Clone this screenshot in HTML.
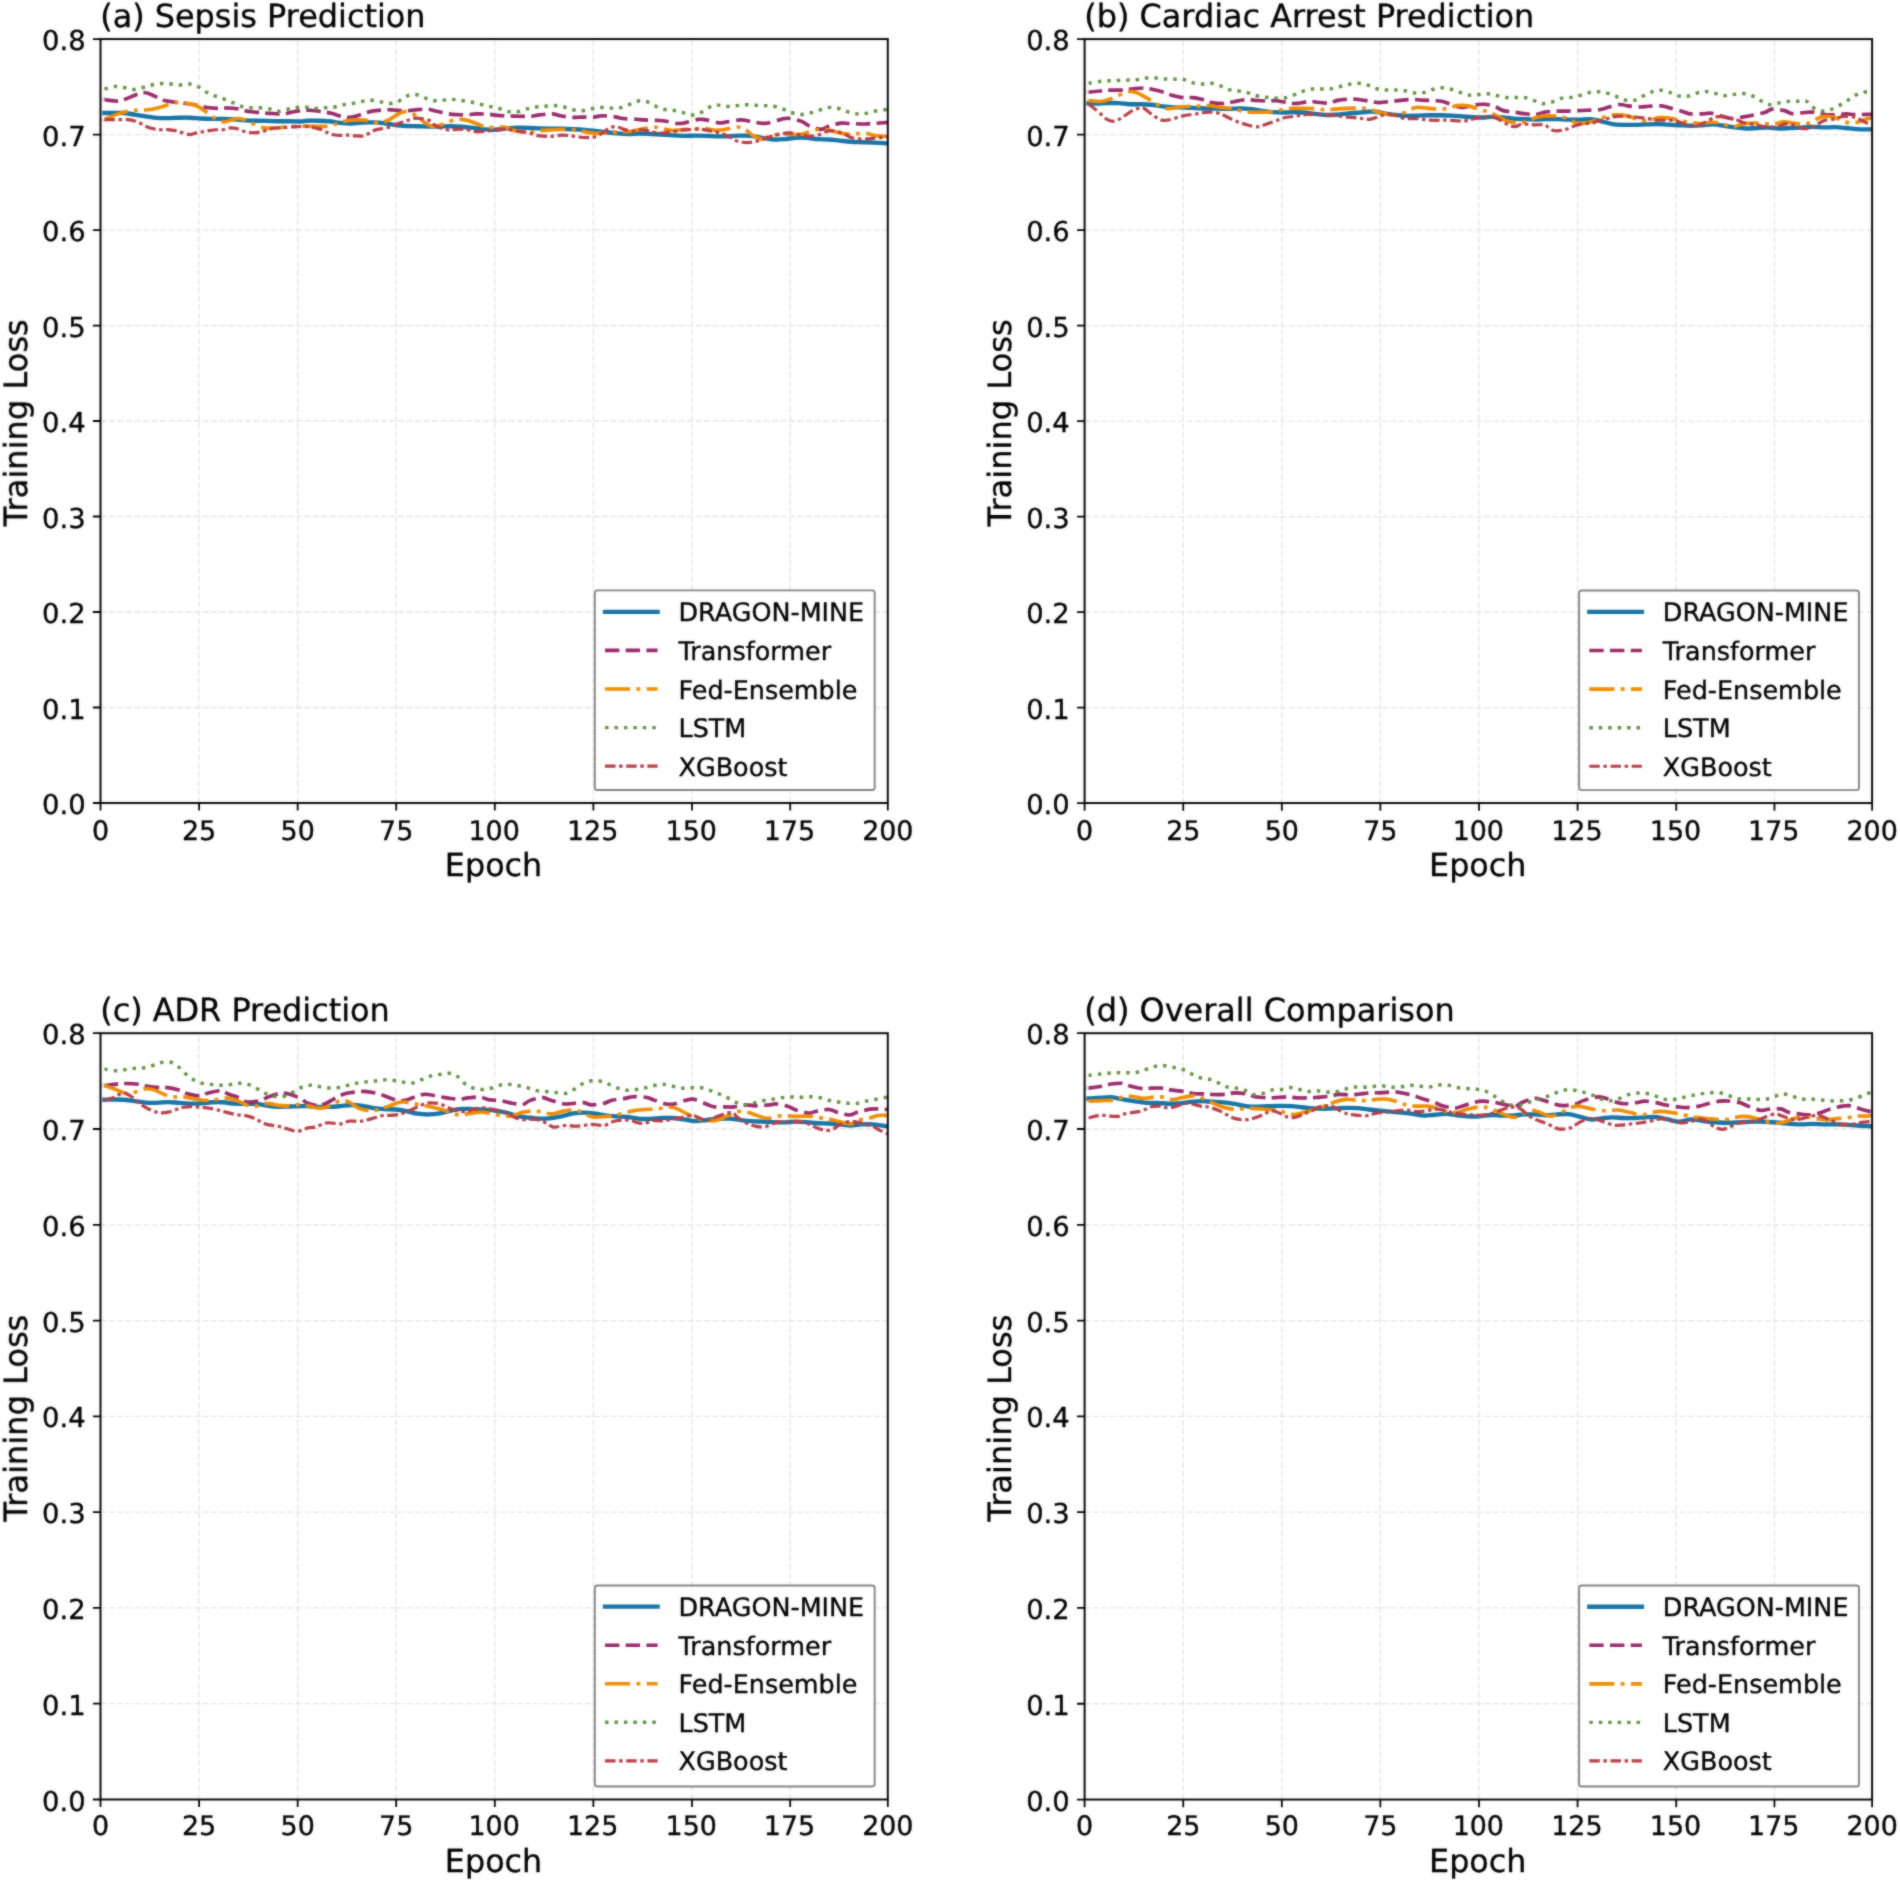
<!DOCTYPE html>
<html lang="en">
<head>
<meta charset="utf-8">
<title>Training loss comparison</title>
<style>
html,body{margin:0;padding:0;background:#fff;}
body{width:1900px;height:1884px;overflow:hidden;}
svg{display:block;font-family:'DejaVu Sans', 'Liberation Sans', sans-serif;fill:#000;}
text{stroke:#000;stroke-width:0.35px;stroke-linejoin:round;}
</style>
</head>
<body>
<svg width="1900" height="1884" viewBox="0 0 1900 1884" text-rendering="geometricPrecision">
<defs><filter id="soft" x="0" y="0" width="100%" height="100%" filterUnits="objectBoundingBox" color-interpolation-filters="sRGB"><feGaussianBlur in="SourceGraphic" stdDeviation="0.8" result="b"/><feComposite in="SourceGraphic" in2="b" operator="arithmetic" k1="0" k2="0.5" k3="0.5" k4="0"/></filter></defs>
<g filter="url(#soft)">
<rect width="1900" height="1884" fill="#fff"/>
<g>
<path d="M199.11 803V39.05M297.68 803V39.05M396.19 803V39.05M494.8 803V39.05M593.36 803V39.05M691.98 803V39.05M790.19 803V39.05M100.5 707.51H887.8M100.5 612.01H887.8M100.5 516.52H887.8M100.5 421.02H887.8M100.5 325.53H887.8M100.5 230.04H887.8M100.5 134.54H887.8" fill="none" stroke="#e4e4e4" stroke-width="1.3" stroke-dasharray="5.9 2.6"/>
<clipPath id="clip-a"><rect x="100.5" y="39.05" width="787.3" height="763.95"/></clipPath>
<g clip-path="url(#clip-a)" fill="none" stroke-linejoin="round">
<path d="M104.44 112.97C104.6 112.97 104.03 112.97 105.39 112.97C106.75 112.97 109.54 112.97 112.58 112.97C115.62 112.97 119.95 112.69 123.63 112.97C127.31 113.25 131 114.08 134.68 114.63C138.37 115.18 142.06 115.74 145.74 116.29C149.43 116.84 153.11 117.64 156.79 117.95C160.47 118.26 164.16 118.21 167.84 118.17C171.52 118.13 175.2 117.8 178.89 117.73C182.57 117.66 186.26 117.6 189.95 117.73C193.63 117.86 197.32 118.32 201 118.5C204.68 118.68 208.37 118.78 212.05 118.83C215.74 118.88 219.43 118.76 223.11 118.83C226.8 118.9 230.48 119.01 234.16 119.27C237.84 119.53 241.53 120.14 245.21 120.38C248.89 120.62 252.57 120.62 256.26 120.71C259.94 120.8 263.63 120.84 267.32 120.93C271 121.02 274.69 121.21 278.37 121.26C282.05 121.31 285.74 121.22 289.42 121.26C293.1 121.3 297.53 121.57 300.47 121.48C303.41 121.39 304.11 120.84 307.05 120.71C309.99 120.58 314.43 120.62 318.11 120.71C321.8 120.8 325.48 120.89 329.16 121.26C332.84 121.63 336.53 122.55 340.21 122.92C343.89 123.29 347.57 123.53 351.26 123.47C354.94 123.41 358.63 122.77 362.32 122.59C366 122.41 369.69 122.26 373.37 122.37C377.05 122.48 380.74 122.79 384.42 123.25C388.1 123.71 391.79 124.67 395.47 125.13C399.16 125.59 402.84 125.83 406.53 126.02C410.21 126.2 413.9 126.15 417.58 126.24C421.26 126.33 424.95 126.51 428.63 126.57C432.31 126.62 436 126.62 439.68 126.57C443.37 126.51 447.06 126.2 450.74 126.24C454.43 126.28 458.11 126.52 461.79 126.79C465.47 127.07 469.16 127.47 472.84 127.89C476.52 128.31 480.2 129.02 483.89 129.33C487.57 129.64 491.09 129.92 494.95 129.77C498.81 129.62 503.19 128.8 507.05 128.45C510.91 128.1 514.43 127.76 518.11 127.67C521.79 127.58 525.48 127.76 529.16 127.89C532.84 128.02 536.53 128.32 540.21 128.45C543.89 128.58 547.58 128.61 551.26 128.67C554.94 128.72 558.63 128.69 562.32 128.78C566.01 128.87 569.69 129.04 573.37 129.22C577.05 129.4 580.74 129.58 584.42 129.88C588.1 130.18 591.79 130.58 595.47 130.99C599.15 131.4 602.85 131.91 606.53 132.32C610.21 132.72 613.9 133.14 617.58 133.42C621.26 133.69 624.95 133.93 628.63 133.97C632.31 134.01 635.99 133.64 639.68 133.64C643.37 133.64 647.06 133.82 650.74 133.97C654.42 134.12 658.11 134.29 661.79 134.53C665.47 134.77 669.16 135.19 672.84 135.41C676.52 135.63 680.2 135.81 683.89 135.85C687.58 135.89 691.09 135.63 694.95 135.63C698.81 135.63 703.19 135.72 707.05 135.85C710.91 135.98 714.42 136.35 718.11 136.41C721.8 136.47 725.48 136.31 729.16 136.18C732.84 136.05 736.53 135.69 740.21 135.63C743.89 135.57 747.58 135.48 751.26 135.85C754.94 136.22 758.63 137.23 762.32 137.84C766.01 138.45 769.69 139.28 773.37 139.5C777.05 139.72 780.74 139.45 784.42 139.17C788.1 138.89 791.79 138.06 795.47 137.84C799.15 137.62 802.85 137.62 806.53 137.84C810.21 138.06 813.9 138.89 817.58 139.17C821.26 139.45 824.95 139.26 828.63 139.5C832.31 139.74 835.99 140.24 839.68 140.61C843.37 140.98 847.06 141.44 850.74 141.71C854.42 141.99 858.11 142.11 861.79 142.26C865.47 142.41 868.6 142.41 872.84 142.59C877.08 142.78 884.82 143.24 887.21 143.37" stroke="#1473a5" stroke-width="4.35" stroke-linecap="square"/>
<path d="M104.44 99.66C104.6 99.67 103.11 99.46 105.39 99.71C107.67 99.96 114.7 101.28 118.11 101.15C121.52 101.02 122.62 100.1 125.84 98.94C129.06 97.78 134.13 95.21 137.45 94.18C140.77 93.15 142.33 92.2 145.74 92.75C149.15 93.3 154.57 96.16 157.89 97.5C161.2 98.84 162.31 99.99 165.63 100.82C168.95 101.65 174.1 101.97 177.79 102.47C181.47 102.97 184.43 103.3 187.74 103.8C191.06 104.3 194.55 104.85 197.68 105.46C200.81 106.07 203.03 106.97 206.53 107.45C210.03 107.93 215.18 108.24 218.68 108.33C222.18 108.42 224.03 107.87 227.53 108C231.03 108.13 236.18 108.52 239.68 109.11C243.18 109.7 244.84 110.95 248.53 111.54C252.22 112.13 258.38 112.34 261.79 112.64C265.2 112.94 265.47 113.07 268.97 113.31C272.47 113.55 279.2 114.23 282.79 114.08C286.38 113.93 287.22 113.04 290.53 112.42C293.84 111.8 299.35 110.75 302.66 110.38C305.97 110.01 306.88 109.96 310.37 110.21C313.87 110.46 320.13 111.35 323.63 111.87C327.13 112.39 327.96 112.45 331.37 113.31C334.78 114.17 340.67 116.44 344.08 117.06C347.49 117.69 348.5 117.65 351.82 117.06C355.13 116.47 360.56 114.53 363.97 113.53C367.38 112.53 368.76 111.7 372.26 111.09C375.76 110.48 381.47 110.06 384.97 109.88C388.47 109.7 389.85 109.84 393.26 109.99C396.67 110.14 401.92 110.76 405.42 110.76C408.92 110.76 410.67 110.27 414.26 109.99C417.85 109.71 423.56 108.98 426.97 109.11C430.38 109.24 431.21 109.99 434.71 110.76C438.21 111.53 444.47 113.11 447.97 113.75C451.47 114.39 452.3 114.48 455.71 114.63C459.12 114.78 465.01 114.76 468.42 114.63C471.83 114.5 472.66 113.91 476.16 113.86C479.66 113.81 485.92 114.04 489.42 114.3C492.92 114.56 493.67 115.13 497.16 115.41C500.65 115.69 506.79 115.81 510.37 115.96C513.95 116.11 515.16 116.23 518.66 116.29C522.16 116.35 527.87 116.53 531.37 116.29C534.87 116.05 536.16 115.25 539.66 114.85C543.16 114.44 548.96 113.71 552.37 113.86C555.78 114.01 556.61 115.15 560.11 115.74C563.61 116.33 569.87 117.17 573.37 117.39C576.87 117.61 577.7 117.12 581.11 117.06C584.52 117 590.32 117.28 593.82 117.06C597.32 116.84 598.61 115.78 602.11 115.74C605.61 115.7 611.32 116.38 614.82 116.84C618.32 117.3 619.52 118.09 623.11 118.5C626.7 118.91 632.87 119.03 636.37 119.27C639.87 119.51 640.7 119.75 644.11 119.94C647.52 120.12 653.41 120.21 656.82 120.38C660.23 120.55 661.14 120.42 664.55 120.93C667.96 121.45 673.76 123.19 677.26 123.47C680.76 123.75 682.05 123.27 685.55 122.59C689.05 121.91 694.86 119.84 698.26 119.38C701.66 118.92 702.46 119.24 705.95 119.83C709.44 120.42 715.71 122.59 719.21 122.92C722.71 123.25 723.45 122.32 726.95 121.82C730.45 121.32 736.8 120.12 740.21 119.94C743.62 119.75 743.89 120.16 747.39 120.71C750.89 121.26 757.71 122.88 761.21 123.25C764.71 123.62 765.07 123.56 768.39 122.92C771.71 122.28 777.7 120.15 781.11 119.38C784.52 118.61 785.34 117.91 788.84 118.28C792.34 118.65 798.79 120.36 802.11 121.59C805.43 122.82 805.52 124.39 808.74 125.68C811.96 126.97 818.13 129.24 821.45 129.33C824.77 129.42 825.41 127.27 828.63 126.24C831.85 125.21 837.38 123.6 840.79 123.14C844.2 122.68 845.49 123.32 849.08 123.47C852.67 123.62 858.84 123.99 862.34 124.03C865.84 124.07 866.58 123.91 870.08 123.69C873.58 123.47 880.39 122.9 883.34 122.7C886.29 122.5 887.06 122.51 887.8 122.47" stroke="#992869" stroke-width="3.65" stroke-linecap="butt" stroke-dasharray="14.4 6.3"/>
<path d="M104.44 119.25C104.6 119.22 103.48 119.82 105.39 119.05C107.3 118.28 112.2 115.92 115.89 114.63C119.58 113.34 124.09 112.06 127.5 111.32C130.91 110.58 133.3 110.43 136.34 110.21C139.38 109.99 142.15 110.36 145.74 109.99C149.33 109.62 154.11 108.88 157.89 108C161.66 107.12 165.16 105.6 168.39 104.68C171.61 103.76 174.29 102.75 177.24 102.47C180.19 102.19 182.67 102.39 186.08 103.03C189.49 103.67 194.09 104.68 197.68 106.34C201.27 108 204.68 110.94 207.63 112.97C210.58 115 212.61 117.03 215.37 118.5C218.13 119.97 221.45 121.63 224.21 121.82C226.97 122 229.55 120.16 231.95 119.61C234.34 119.06 236.19 118.37 238.58 118.5C240.98 118.63 243.61 119.37 246.32 120.38C249.03 121.39 251.88 123.36 254.83 124.58C257.78 125.8 261 127.08 264 127.67C267 128.26 269.71 128.18 272.84 128.12C275.97 128.06 278.74 127.65 282.79 127.34C286.84 127.03 293.12 126.42 297.16 126.24C301.2 126.06 303.56 126.24 307.05 126.24C310.54 126.24 314.43 126.24 318.11 126.24C321.8 126.24 325.85 126.76 329.16 126.24C332.48 125.72 335.05 124.06 338 123.14C340.95 122.22 343.52 121.26 346.84 120.71C350.15 120.16 354.94 119.92 357.89 119.83C360.84 119.74 362.5 119.92 364.53 120.16C366.56 120.4 367.56 120.76 370.05 121.26C372.54 121.76 376.41 123.32 379.45 123.14C382.49 122.96 385.62 121.39 388.29 120.16C390.96 118.93 393.17 117.07 395.47 115.74C397.77 114.41 399.9 112.84 402.11 112.2C404.32 111.56 406.16 111.1 408.74 111.87C411.32 112.64 414.82 115 417.58 116.84C420.34 118.68 422.93 121.35 425.32 122.92C427.71 124.49 429.74 125.82 431.95 126.24C434.16 126.66 436.19 126.01 438.58 125.46C440.97 124.91 443.46 123.93 446.32 122.92C449.18 121.91 452.58 119.89 455.71 119.38C458.84 118.86 461.89 119.24 465.11 119.83C468.33 120.42 471.55 121.67 475.05 122.92C478.55 124.17 482.57 126.64 486.11 127.34C489.65 128.04 492.96 127.12 496.27 127.12C499.58 127.12 503.23 126.84 505.95 127.34C508.67 127.84 509.08 129.28 512.58 130.11C516.08 130.94 522.71 132.19 526.95 132.32C531.19 132.45 534.68 131.25 538 130.88C541.32 130.51 543.34 130.33 546.84 130.11C550.34 129.89 554.95 129.64 559 129.55C563.05 129.46 567.7 129.37 571.16 129.55C574.62 129.74 576.74 130.14 579.78 130.66C582.82 131.18 586.41 132.19 589.39 132.65C592.37 133.11 594.82 133.38 597.68 133.42C600.54 133.46 604.13 133.09 606.53 132.87C608.92 132.65 609.56 132.22 612.05 132.09C614.54 131.96 618.13 132.24 621.45 132.09C624.77 131.94 628.36 131.76 631.95 131.21C635.54 130.66 639.32 129.48 643 128.78C646.68 128.08 650.73 127.03 654.05 127.01C657.37 126.99 659.94 128.1 662.89 128.67C665.84 129.24 668.24 130.29 671.74 130.44C675.24 130.59 679.84 129.83 683.89 129.55C687.94 129.27 692.56 128.96 696.05 128.78C699.54 128.6 701.9 128.23 704.84 128.45C707.78 128.67 710.55 129.89 713.68 130.11C716.81 130.33 719.67 130.29 723.63 129.77C727.59 129.25 733.77 126.95 737.45 127.01C741.13 127.07 743.07 128.64 745.74 130.11C748.41 131.58 750.89 134.38 753.47 135.85C756.05 137.32 758.82 138.71 761.21 138.95C763.61 139.19 765.26 138.03 767.84 137.29C770.42 136.55 773.92 135.14 776.68 134.53C779.44 133.92 781.84 133.64 784.42 133.64C787 133.64 789.4 134.42 792.16 134.53C794.92 134.64 798.24 134.72 801 134.31C803.76 133.9 805.98 132.88 808.74 132.09C811.5 131.3 814.86 130.01 817.58 129.55C820.31 129.09 822.51 129.05 825.09 129.33C827.67 129.61 830.25 130.53 833.05 131.21C835.85 131.89 838.94 132.9 841.89 133.42C844.84 133.94 848.16 134.27 850.74 134.31C853.32 134.35 854.7 133.79 857.37 133.64C860.04 133.49 863.72 133.09 866.76 133.42C869.8 133.75 872.2 135.13 875.61 135.63C879.02 136.13 885.28 136.28 887.21 136.41" stroke="#f08c00" stroke-width="3.65" stroke-linecap="butt" stroke-dasharray="25.1 6.3 3.9 6.3"/>
<path d="M104.44 88.84C104.69 88.81 104.13 89.06 105.95 88.66C107.77 88.26 112.3 86.64 115.34 86.45C118.38 86.27 121.14 87.05 124.18 87.55C127.22 88.05 130.45 89.43 133.58 89.43C136.71 89.43 139.93 88.29 142.97 87.55C146.01 86.81 148.78 85.69 151.82 85.01C154.86 84.33 158.08 83.64 161.21 83.46C164.34 83.28 167.48 83.65 170.61 83.91C173.74 84.17 176.87 85.01 180 85.01C183.13 85.01 186.35 83.61 189.39 83.91C192.43 84.2 195.38 85.4 198.24 86.78C201.1 88.16 203.77 90.68 206.53 92.19C209.29 93.7 211.97 94.73 214.82 95.84C217.67 96.95 220.71 97.72 223.66 98.83C226.61 99.94 229.55 101.22 232.5 102.47C235.45 103.72 238.3 105.45 241.34 106.34C244.38 107.23 247.61 107.54 250.74 107.78C253.87 108.02 257 107.6 260.13 107.78C263.26 107.96 266.49 108.29 269.53 108.88C272.57 109.47 275.33 111.28 278.37 111.32C281.41 111.36 284.72 109.75 287.76 109.11C290.8 108.47 293.58 107.78 296.61 107.45C299.64 107.12 302.88 106.94 305.95 107.12C309.02 107.3 311.93 108.44 315.01 108.55C318.09 108.66 321.32 108 324.41 107.78C327.5 107.56 330.54 107.71 333.58 107.23C336.62 106.75 339.6 105.52 342.64 104.91C345.68 104.3 348.73 104.13 351.82 103.58C354.91 103.03 358.12 102.14 361.21 101.59C364.3 101.04 367.28 100.26 370.38 100.26C373.48 100.26 376.65 101.04 379.78 101.59C382.91 102.14 386.15 103.58 389.17 103.58C392.19 103.58 395.07 102.79 397.91 101.59C400.75 100.39 403.33 97.59 406.19 96.39C409.05 95.19 412.09 94.22 415.04 94.41C417.99 94.59 420.88 96.49 423.88 97.5C426.88 98.51 429.96 100.02 433.05 100.48C436.14 100.94 439.32 100.44 442.45 100.26C445.58 100.08 448.71 99.34 451.84 99.38C454.97 99.42 458.14 100.06 461.24 100.48C464.34 100.9 467.34 101.31 470.41 101.92C473.49 102.53 476.58 103.39 479.69 104.13C482.8 104.87 486 105.66 489.09 106.34C492.18 107.02 495.27 107.39 498.26 108.22C501.25 109.05 504.02 110.71 507.05 111.32C510.08 111.93 513.41 112.2 516.45 111.87C519.49 111.54 522.25 110.12 525.29 109.33C528.33 108.54 531.55 107.62 534.68 107.12C537.81 106.62 540.95 106.6 544.08 106.34C547.21 106.08 550.34 105.51 553.47 105.57C556.6 105.62 559.79 106.03 562.87 106.67C565.95 107.31 568.85 108.76 571.93 109.44C575.01 110.12 578.2 110.85 581.33 110.76C584.46 110.67 587.63 109.43 590.72 108.88C593.81 108.33 596.79 107.6 599.89 107.45C602.99 107.3 606.16 107.91 609.29 108C612.42 108.09 615.6 108.46 618.68 108C621.76 107.54 624.8 106.34 627.75 105.24C630.7 104.13 633.42 102.05 636.37 101.37C639.32 100.69 642.52 100.51 645.43 101.15C648.34 101.8 650.98 103.91 653.83 105.24C656.69 106.57 659.54 108.28 662.56 109.11C665.58 109.94 668.87 109.75 671.96 110.21C675.06 110.67 678.13 111.1 681.13 111.87C684.13 112.64 686.97 114.57 689.97 114.85C692.97 115.13 696.3 114.58 699.15 113.53C702 112.48 704.26 109.99 707.05 108.55C709.84 107.11 712.85 105.28 715.89 104.91C718.93 104.54 722.16 106.16 725.29 106.34C728.42 106.52 731.55 106.29 734.68 106.01C737.81 105.73 740.95 104.81 744.08 104.68C747.21 104.55 750.34 105.09 753.47 105.24C756.6 105.39 759.74 105.44 762.87 105.57C766 105.7 769.13 105.51 772.26 106.01C775.39 106.51 778.67 107.52 781.66 108.55C784.64 109.58 787.22 111.22 790.17 112.2C793.12 113.18 796.28 114.22 799.34 114.41C802.4 114.59 805.48 113.92 808.52 113.31C811.56 112.7 814.54 111.68 817.58 110.76C820.62 109.84 823.65 108.28 826.75 107.78C829.85 107.28 833.07 107.23 836.15 107.78C839.23 108.33 842.19 110.13 845.21 111.09C848.23 112.05 851.19 113.09 854.27 113.53C857.35 113.97 860.57 114.08 863.67 113.75C866.76 113.42 869.75 112.17 872.84 111.54C875.94 110.91 879.75 110.35 882.24 109.99C884.73 109.62 886.87 109.46 887.8 109.35" stroke="#5f933e" stroke-width="3.45" stroke-linecap="butt" stroke-dasharray="3.5 5.95"/>
<path d="M104.44 119.84C104.6 119.84 104.03 119.87 105.39 119.83C106.75 119.79 110.09 119.65 112.58 119.61C115.07 119.57 117.74 119.61 120.32 119.61C122.9 119.61 125.66 119.39 128.05 119.61C130.44 119.83 132.56 120.29 134.68 120.93C136.8 121.57 138.73 122.49 140.76 123.47C142.79 124.45 144.54 125.87 146.84 126.79C149.14 127.71 152.19 128.5 154.58 129C156.98 129.5 159 129.68 161.21 129.77C163.42 129.86 165.44 129.4 167.84 129.55C170.24 129.7 173.19 130.14 175.58 130.66C177.98 131.18 179.81 132 182.21 132.65C184.61 133.3 187.55 134.49 189.95 134.53C192.34 134.57 194.46 133.33 196.58 132.87C198.7 132.41 200.63 132.13 202.66 131.76C204.69 131.39 206.53 130.99 208.74 130.66C210.95 130.33 213.52 129.92 215.92 129.77C218.31 129.62 220.72 130.08 223.11 129.77C225.51 129.46 228.08 128.11 230.29 127.89C232.5 127.67 234.16 127.9 236.37 128.45C238.58 129 241.16 130.51 243.55 131.21C245.95 131.91 248.25 132.47 250.74 132.65C253.23 132.84 256.08 132.65 258.47 132.32C260.87 131.99 262.72 131.31 265.11 130.66C267.5 130.01 269.34 129 272.84 128.45C276.34 127.9 282.06 127.65 286.11 127.34C290.16 127.03 293.67 126.7 297.16 126.57C300.65 126.44 304.48 126.44 307.05 126.57C309.62 126.7 310.19 126.84 312.58 127.34C314.97 127.84 318.93 128.67 321.42 129.55C323.91 130.44 325.47 131.78 327.5 132.65C329.53 133.52 331.28 134.29 333.58 134.75C335.88 135.21 338.83 135.35 341.32 135.41C343.81 135.47 346.11 135.01 348.5 135.08C350.89 135.15 353.19 135.72 355.68 135.85C358.17 135.98 361.12 136.29 363.42 135.85C365.72 135.41 367.47 134.19 369.5 133.2C371.53 132.2 373.28 130.67 375.58 129.88C377.88 129.09 380.96 128.93 383.32 128.45C385.68 127.97 387.71 127.66 389.73 127.01C391.75 126.37 393.32 125.41 395.47 124.58C397.62 123.75 400.32 122.83 402.66 122.04C405 121.25 407.3 120.47 409.51 119.83C411.72 119.19 413.65 118.3 415.92 118.17C418.19 118.04 420.72 118.59 423.11 119.05C425.5 119.51 428.27 119.83 430.29 120.93C432.31 122.04 433.14 124.37 435.26 125.68C437.38 126.99 440.61 128.04 443 128.78C445.39 129.52 447.42 130.02 449.63 130.11C451.84 130.2 453.87 129.46 456.26 129.33C458.65 129.2 461.55 129.15 464 129.33C466.45 129.52 468.75 130.03 470.96 130.44C473.17 130.84 474.92 131.63 477.26 131.76C479.6 131.89 482.51 131.43 485 131.21C487.49 130.99 489.79 130.72 492.18 130.44C494.57 130.16 496.89 129.75 499.37 129.55C501.85 129.35 503.93 128.94 507.05 129.22C510.17 129.5 514.61 130.64 518.11 131.21C521.61 131.78 525.38 132.06 528.05 132.65C530.72 133.24 532.1 134.2 534.13 134.75C536.16 135.3 537.54 135.68 540.21 135.96C542.88 136.24 547.58 136.41 550.16 136.41C552.74 136.41 553.75 136.18 555.68 135.96C557.61 135.74 559.18 135.1 561.76 135.08C564.34 135.06 568.62 135.57 571.16 135.85C573.7 136.13 574.99 136.46 577.02 136.74C579.05 137.02 580.71 137.42 583.32 137.51C585.94 137.6 590.22 137.66 592.71 137.29C595.2 136.92 596.49 136.13 598.24 135.3C599.99 134.47 601.09 133.65 603.21 132.32C605.33 130.99 608.61 128.26 610.95 127.34C613.29 126.42 615.22 126.51 617.25 126.79C619.28 127.07 620.66 128.26 623.11 129C625.56 129.74 629.37 131.03 631.95 131.21C634.53 131.4 636.55 130.29 638.58 130.11C640.61 129.93 641.72 129.8 644.11 130.11C646.5 130.42 650.41 131.47 652.95 131.98C655.49 132.49 657.15 133.09 659.36 133.2C661.57 133.31 663.6 132.98 666.21 132.65C668.83 132.32 672.47 131.63 675.05 131.21C677.63 130.79 679.84 130.33 681.68 130.11C683.52 129.89 683.72 130.03 686.11 129.88C688.5 129.73 693.11 129.28 696.05 129.22C698.99 129.16 701.54 129.31 703.74 129.55C705.94 129.79 707.05 130.24 709.26 130.66C711.47 131.08 714.79 131.57 717 132.09C719.21 132.61 720.69 133.07 722.53 133.75C724.37 134.43 725.84 135.04 728.05 136.18C730.26 137.32 733.39 139.6 735.79 140.61C738.18 141.62 740.21 141.95 742.42 142.26C744.63 142.57 746.65 142.66 749.05 142.48C751.44 142.3 754.21 141.84 756.79 141.16C759.37 140.48 761.4 139.4 764.53 138.39C767.66 137.38 772.32 135.91 775.58 135.08C778.84 134.25 781.7 133.79 784.09 133.42C786.49 133.05 787.5 132.69 789.95 132.87C792.4 133.06 796.3 134.07 798.79 134.53C801.28 134.99 802.84 135.35 804.87 135.63C806.9 135.91 808.46 136.36 810.95 136.18C813.44 136 817.3 135.27 819.79 134.53C822.28 133.79 823.84 132.41 825.87 131.76C827.9 131.11 829.65 130.57 831.95 130.66C834.25 130.75 837.28 131.58 839.68 132.32C842.07 133.06 844.29 134.16 846.32 135.08C848.35 136 849.63 137.19 851.84 137.84C854.05 138.49 857.09 138.76 859.58 138.95C862.07 139.13 864.55 139.04 866.76 138.95C868.97 138.86 870.17 138.67 872.84 138.39C875.51 138.11 880.3 137.54 882.79 137.29C885.28 137.04 886.96 136.97 887.8 136.9" stroke="#b93c46" stroke-width="3.2" stroke-linecap="butt" stroke-dasharray="10.5 3.6 3.5 3.6"/>
</g>
<path d="M100.5 803v7.6M199.11 803v7.6M297.68 803v7.6M396.19 803v7.6M494.8 803v7.6M593.36 803v7.6M691.98 803v7.6M790.19 803v7.6M887.8 803v7.6M100.5 803h-7.6M100.5 707.51h-7.6M100.5 612.01h-7.6M100.5 516.52h-7.6M100.5 421.02h-7.6M100.5 325.53h-7.6M100.5 230.04h-7.6M100.5 134.54h-7.6M100.5 39.05h-7.6" fill="none" stroke="#000" stroke-width="1.8"/>
<rect x="100.5" y="39.05" width="787.3" height="763.95" fill="none" stroke="#000" stroke-width="1.95"/>
<g font-size="27.4">
<text x="100.5" y="840" text-anchor="middle" font-size="26.9">0</text>
<text x="199.11" y="840" text-anchor="middle" font-size="26.9">25</text>
<text x="297.68" y="840" text-anchor="middle" font-size="26.9">50</text>
<text x="396.19" y="840" text-anchor="middle" font-size="26.9">75</text>
<text x="494.1" y="840" text-anchor="middle" font-size="26.9">100</text>
<text x="592.66" y="840" text-anchor="middle" font-size="26.9">125</text>
<text x="691.27" y="840" text-anchor="middle" font-size="26.9">150</text>
<text x="789.49" y="840" text-anchor="middle" font-size="26.9">175</text>
<text x="887.8" y="840" text-anchor="middle" font-size="26.9">200</text>
<text x="85.6" y="814" text-anchor="end">0.0</text>
<text x="85.6" y="718.51" text-anchor="end">0.1</text>
<text x="85.6" y="623.01" text-anchor="end">0.2</text>
<text x="85.6" y="527.52" text-anchor="end">0.3</text>
<text x="85.6" y="432.02" text-anchor="end">0.4</text>
<text x="85.6" y="336.53" text-anchor="end">0.5</text>
<text x="85.6" y="241.04" text-anchor="end">0.6</text>
<text x="85.6" y="145.54" text-anchor="end">0.7</text>
<text x="85.6" y="50.05" text-anchor="end">0.8</text>
</g>
<text x="493.55" y="875.6" text-anchor="middle" font-size="31.8">Epoch</text>
<text transform="translate(27 422.82) rotate(-90)" text-anchor="middle" font-size="32.1">Training Loss</text>
<text x="100.2" y="26.55" font-size="31.9">(a) Sepsis Prediction</text>
<rect x="594.8" y="590.4" width="279.9" height="199.65" rx="2.6" fill="#fff" fill-opacity="0.9" stroke="#828282" stroke-width="1.9"/>
<g font-size="25.45">
<path d="M605 611.8H657.6" fill="none" stroke="#1473a5" stroke-width="4.35" stroke-linecap="square"/>
<text x="678.5" y="621.3">DRAGON-MINE</text>
<path d="M605 650.4H657.6" fill="none" stroke="#992869" stroke-width="3.65" stroke-linecap="butt" stroke-dasharray="14.4 6.3"/>
<text x="678.5" y="659.9">Transformer</text>
<path d="M605 689H657.6" fill="none" stroke="#f08c00" stroke-width="3.65" stroke-linecap="butt" stroke-dasharray="25.1 6.3 3.9 6.3"/>
<text x="678.5" y="698.5">Fed-Ensemble</text>
<path d="M605 727.6H657.6" fill="none" stroke="#5f933e" stroke-width="3.45" stroke-linecap="butt" stroke-dasharray="3.5 5.95"/>
<text x="678.5" y="737.1">LSTM</text>
<path d="M605 766.2H657.6" fill="none" stroke="#b93c46" stroke-width="3.2" stroke-linecap="butt" stroke-dasharray="10.5 3.6 3.5 3.6"/>
<text x="678.5" y="775.7">XGBoost</text>
</g>
</g>
<g>
<path d="M1183.24 803.05V39.1M1281.82 803.05V39.1M1380.36 803.05V39.1M1479 803.05V39.1M1577.59 803.05V39.1M1676.22 803.05V39.1M1774.46 803.05V39.1M1084.6 707.56H1872.1M1084.6 612.06H1872.1M1084.6 516.57H1872.1M1084.6 421.07H1872.1M1084.6 325.58H1872.1M1084.6 230.09H1872.1M1084.6 134.59H1872.1" fill="none" stroke="#e4e4e4" stroke-width="1.3" stroke-dasharray="5.9 2.6"/>
<clipPath id="clip-b"><rect x="1084.6" y="39.1" width="787.5" height="763.95"/></clipPath>
<g clip-path="url(#clip-b)" fill="none" stroke-linejoin="round">
<path d="M1088.54 103.31C1088.68 103.31 1088.05 103.27 1089.39 103.33C1090.73 103.39 1093.54 103.7 1096.58 103.66C1099.62 103.62 1103.95 103.2 1107.63 103.11C1111.31 103.02 1115 102.93 1118.68 103.11C1122.37 103.29 1126.06 104.03 1129.74 104.21C1133.42 104.39 1137.11 104.12 1140.79 104.21C1144.47 104.3 1148.16 104.39 1151.84 104.76C1155.52 105.13 1159.21 106 1162.89 106.42C1166.58 106.84 1170.27 107.12 1173.95 107.31C1177.63 107.5 1181.32 107.4 1185 107.53C1188.68 107.66 1192.37 107.9 1196.05 108.08C1199.73 108.26 1203.42 108.54 1207.11 108.63C1210.79 108.72 1214.48 108.59 1218.16 108.63C1221.84 108.67 1225.53 108.89 1229.21 108.85C1232.89 108.81 1236.58 108.35 1240.26 108.41C1243.94 108.47 1247.63 108.78 1251.32 109.18C1255 109.59 1258.69 110.34 1262.37 110.84C1266.05 111.34 1269.74 111.89 1273.42 112.17C1277.1 112.45 1281.53 112.5 1284.47 112.5C1287.41 112.5 1288.11 112.17 1291.05 112.17C1293.99 112.17 1298.42 112.26 1302.11 112.5C1305.79 112.74 1309.48 113.2 1313.16 113.61C1316.84 114.02 1320.53 114.75 1324.21 114.93C1327.89 115.11 1331.58 114.93 1335.26 114.71C1338.94 114.49 1342.63 113.94 1346.32 113.61C1350 113.28 1353.69 113.03 1357.37 112.72C1361.05 112.41 1365.29 111.9 1368.42 111.73C1371.55 111.56 1373.4 111.42 1376.16 111.73C1378.92 112.04 1381.68 113.08 1385 113.61C1388.32 114.14 1392.37 114.56 1396.05 114.93C1399.73 115.3 1403.42 115.71 1407.11 115.82C1410.79 115.93 1414.48 115.68 1418.16 115.59C1421.84 115.5 1425.53 115.31 1429.21 115.26C1432.89 115.21 1436.58 115.21 1440.26 115.26C1443.94 115.31 1447.63 115.41 1451.32 115.59C1455 115.78 1458.69 116.09 1462.37 116.37C1466.05 116.65 1469.74 117.07 1473.42 117.25C1477.1 117.43 1481.53 117.53 1484.47 117.47C1487.41 117.41 1488.11 116.92 1491.05 116.92C1493.99 116.92 1498.42 117.19 1502.11 117.47C1505.79 117.75 1509.48 118.3 1513.16 118.58C1516.84 118.86 1520.53 118.98 1524.21 119.13C1527.89 119.28 1531.58 119.46 1535.26 119.46C1538.94 119.46 1542.63 119.19 1546.32 119.13C1550 119.07 1553.69 119.04 1557.37 119.13C1561.05 119.22 1564.74 119.59 1568.42 119.68C1572.1 119.77 1575.79 119.77 1579.47 119.68C1583.15 119.59 1586.85 118.85 1590.53 119.13C1594.21 119.41 1597.9 120.51 1601.58 121.34C1605.26 122.17 1608.95 123.52 1612.63 124.11C1616.31 124.7 1620 124.75 1623.68 124.88C1627.37 125.01 1631.06 124.95 1634.74 124.88C1638.42 124.81 1642.11 124.57 1645.79 124.44C1649.47 124.31 1653.16 124.07 1656.84 124.11C1660.52 124.15 1664.21 124.48 1667.89 124.66C1671.58 124.84 1675.09 125.03 1678.95 125.21C1682.81 125.39 1687.19 125.76 1691.05 125.76C1694.91 125.76 1698.42 125.43 1702.11 125.21C1705.79 124.99 1709.48 124.35 1713.16 124.44C1716.84 124.53 1720.53 125.26 1724.21 125.76C1727.89 126.26 1731.58 126.96 1735.26 127.42C1738.94 127.88 1742.63 128.44 1746.32 128.53C1750 128.62 1753.69 128.12 1757.37 127.97C1761.05 127.82 1764.74 127.55 1768.42 127.64C1772.1 127.73 1775.79 128.47 1779.47 128.53C1783.15 128.59 1786.85 128.12 1790.53 127.97C1794.21 127.82 1797.9 127.82 1801.58 127.64C1805.26 127.46 1808.95 126.91 1812.63 126.87C1816.31 126.83 1820 127.37 1823.68 127.42C1827.37 127.47 1831.06 127.11 1834.74 127.2C1838.42 127.29 1842.11 127.66 1845.79 127.97C1849.47 128.28 1852.6 128.84 1856.84 129.08C1861.08 129.32 1868.82 129.35 1871.21 129.41" stroke="#1473a5" stroke-width="4.35" stroke-linecap="square"/>
<path d="M1088.54 92.1C1088.68 92.09 1087.13 92.28 1089.39 92.05C1091.65 91.82 1098.7 91.04 1102.11 90.73C1105.52 90.42 1106.43 90.28 1109.84 90.17C1113.25 90.06 1119.05 90.26 1122.55 90.06C1126.05 89.86 1127.34 89.31 1130.84 88.96C1134.34 88.61 1140.05 87.9 1143.55 87.96C1147.05 88.02 1148.34 88.55 1151.84 89.29C1155.34 90.03 1161.23 91.37 1164.55 92.38C1167.87 93.39 1168.52 94.45 1171.74 95.37C1174.96 96.29 1180.39 97.54 1183.89 97.91C1187.39 98.28 1189.24 97.23 1192.74 97.58C1196.24 97.93 1201.48 99.13 1204.89 100.01C1208.3 100.89 1209.68 102.31 1213.18 102.88C1216.68 103.45 1222.48 103.62 1225.89 103.44C1229.3 103.26 1230.31 102.42 1233.63 101.78C1236.95 101.14 1242.29 99.81 1245.79 99.57C1249.29 99.33 1251.04 100.08 1254.63 100.34C1258.22 100.6 1263.84 101.06 1267.34 101.12C1270.84 101.18 1272.18 100.4 1275.63 100.67C1279.08 100.94 1284.55 102.26 1288.04 102.72C1291.53 103.18 1293.04 103.65 1296.58 103.44C1300.12 103.23 1305.88 101.65 1309.29 101.45C1312.7 101.25 1313.62 101.94 1317.03 102.22C1320.44 102.5 1326.33 103.42 1329.74 103.11C1333.15 102.8 1334.06 101.02 1337.47 100.34C1340.88 99.66 1346.68 99.17 1350.18 99.02C1353.68 98.87 1354.97 99.05 1358.47 99.46C1361.97 99.86 1367.68 100.94 1371.18 101.45C1374.68 101.97 1375.97 102.59 1379.47 102.55C1382.97 102.51 1388.68 101.6 1392.18 101.23C1395.68 100.86 1396.97 100.64 1400.47 100.34C1403.97 100.05 1409.68 99.5 1413.18 99.46C1416.68 99.42 1417.97 99.92 1421.47 100.12C1424.97 100.32 1430.68 100.45 1434.18 100.67C1437.68 100.89 1439.06 100.62 1442.47 101.45C1445.88 102.28 1451.31 104.64 1454.63 105.65C1457.95 106.66 1458.87 107.68 1462.37 107.53C1465.87 107.38 1472.13 105.31 1475.63 104.76C1479.13 104.21 1480.98 104.16 1483.37 104.21C1485.76 104.26 1487.84 104.63 1489.95 105.09C1492.06 105.55 1493.82 106.05 1496.03 106.97C1498.24 107.89 1499.99 109.75 1503.21 110.62C1506.43 111.49 1511.96 111.67 1515.37 112.17C1518.78 112.67 1520.16 113.24 1523.66 113.61C1527.16 113.98 1532.78 114.66 1536.37 114.38C1539.96 114.1 1541.71 112.48 1545.21 111.95C1548.71 111.42 1553.96 111.3 1557.37 111.17C1560.78 111.04 1562.25 111.26 1565.66 111.17C1569.07 111.08 1574.32 110.77 1577.82 110.62C1581.32 110.47 1583.07 110.44 1586.66 110.29C1590.25 110.14 1595.87 110.2 1599.37 109.74C1602.87 109.28 1604.25 108.4 1607.66 107.53C1611.07 106.66 1616.5 104.82 1619.82 104.54C1623.13 104.26 1624.14 105.47 1627.55 105.87C1630.96 106.28 1636.76 106.91 1640.26 106.97C1643.76 107.03 1645.05 106.38 1648.55 106.2C1652.05 106.02 1657.76 105.59 1661.26 105.87C1664.76 106.15 1666.05 106.94 1669.55 107.86C1673.05 108.78 1678.86 110.39 1682.26 111.39C1685.66 112.39 1686.55 113.42 1689.95 113.83C1693.35 114.24 1699.07 113.92 1702.66 113.83C1706.25 113.74 1708 112.79 1711.5 113.27C1715 113.75 1720.25 115.81 1723.66 116.7C1727.07 117.59 1728.63 118.54 1731.95 118.58C1735.27 118.62 1740.14 117.47 1743.55 116.92C1746.96 116.37 1748.89 116 1752.39 115.26C1755.89 114.52 1761.23 113.51 1764.55 112.5C1767.87 111.49 1768.97 109.49 1772.29 109.18C1775.61 108.87 1781.13 109.88 1784.45 110.62C1787.77 111.36 1788.77 113.3 1792.18 113.61C1795.59 113.92 1801.3 112.74 1804.89 112.5C1808.48 112.26 1810.24 111.8 1813.74 112.17C1817.24 112.54 1822.48 114.29 1825.89 114.71C1829.3 115.13 1830.77 114.84 1834.18 114.71C1837.59 114.58 1842.93 113.98 1846.34 113.94C1849.75 113.9 1851.04 114.42 1854.63 114.49C1858.22 114.56 1864.98 114.4 1867.89 114.38C1870.8 114.36 1871.4 114.35 1872.1 114.35" stroke="#992869" stroke-width="3.65" stroke-linecap="butt" stroke-dasharray="14.4 6.3"/>
<path d="M1088.54 100.64C1088.68 100.64 1087.5 100.53 1089.39 100.67C1091.28 100.81 1097.03 101.5 1099.89 101.45C1102.75 101.4 1104.5 100.86 1106.53 100.34C1108.56 99.82 1109.71 99.31 1112.05 98.35C1114.39 97.39 1117.61 95.73 1120.56 94.59C1123.51 93.45 1127.11 91.83 1129.74 91.5C1132.38 91.17 1134.16 91.87 1136.37 92.61C1138.58 93.35 1140.51 94.59 1143 95.92C1145.49 97.25 1148.67 98.99 1151.29 100.56C1153.9 102.13 1155.93 103.97 1158.69 105.32C1161.45 106.66 1164.41 108.35 1167.87 108.63C1171.33 108.91 1175.79 107.34 1179.47 106.97C1183.15 106.6 1186.56 106.57 1189.97 106.42C1193.38 106.27 1196.6 106.22 1199.92 106.09C1203.24 105.96 1206.28 105.41 1209.87 105.65C1213.46 105.89 1217.69 107.03 1221.47 107.53C1225.25 108.03 1229.21 108.04 1232.53 108.63C1235.85 109.22 1238.33 110.47 1241.37 111.06C1244.41 111.65 1247.26 111.98 1250.76 112.17C1254.26 112.36 1258.59 112.24 1262.37 112.17C1266.15 112.1 1269.98 112.17 1273.42 111.73C1276.87 111.29 1279.92 110.07 1283.04 109.52C1286.16 108.97 1288.8 108.61 1292.16 108.41C1295.52 108.21 1299.34 108.26 1303.21 108.3C1307.08 108.34 1311.81 108.39 1315.37 108.63C1318.92 108.87 1321.41 109.65 1324.54 109.74C1327.67 109.83 1330.53 109.4 1334.16 109.18C1337.79 108.96 1342.36 108.59 1346.32 108.41C1350.28 108.23 1354.48 108.04 1357.92 108.08C1361.36 108.12 1363.94 108.08 1366.98 108.63C1370.02 109.18 1372.97 110.47 1376.16 111.39C1379.35 112.31 1382.43 113.52 1386.11 114.16C1389.79 114.8 1394.76 115.78 1398.26 115.26C1401.76 114.74 1404.16 112.35 1407.11 111.06C1410.06 109.77 1412.63 108.03 1415.95 107.53C1419.27 107.03 1423.13 107.8 1427 108.08C1430.87 108.36 1435.66 109.14 1439.16 109.18C1442.66 109.22 1445.05 108.89 1448 108.3C1450.95 107.71 1453.52 106.06 1456.84 105.65C1460.15 105.25 1464.02 105.19 1467.89 105.87C1471.76 106.55 1476.56 108.73 1480.05 109.74C1483.54 110.75 1485.9 110.84 1488.84 111.95C1491.78 113.06 1494.55 114.81 1497.68 116.37C1500.81 117.94 1504.13 120.23 1507.63 121.34C1511.13 122.45 1515.18 123.13 1518.68 123C1522.18 122.87 1525.5 121.58 1528.63 120.57C1531.76 119.56 1534.15 117.71 1537.47 116.92C1540.79 116.13 1544.66 115.88 1548.53 115.82C1552.4 115.76 1557.18 115.95 1560.68 116.59C1564.18 117.23 1566.58 118.52 1569.53 119.68C1572.48 120.84 1575.24 123.09 1578.37 123.55C1581.5 124.01 1584.64 123.28 1588.32 122.45C1592 121.62 1596.88 119.78 1600.47 118.58C1604.06 117.38 1606.83 115.87 1609.87 115.26C1612.91 114.65 1615.49 114.75 1618.71 114.93C1621.93 115.12 1625.43 115.43 1629.21 116.37C1632.99 117.31 1637.72 120.02 1641.37 120.57C1645.02 121.12 1647.96 120.16 1651.09 119.68C1654.22 119.2 1656.62 117.87 1660.16 117.69C1663.7 117.51 1668.45 117.97 1672.32 118.58C1676.19 119.19 1680.06 120.64 1683.37 121.34C1686.68 122.04 1689.22 122.41 1692.16 122.78C1695.1 123.15 1698.24 123.6 1701 123.55C1703.76 123.5 1706.16 122.63 1708.74 122.45C1711.32 122.27 1713.89 122.12 1716.47 122.45C1719.05 122.78 1721.35 123.7 1724.21 124.44C1727.07 125.18 1730.48 126.96 1733.61 126.87C1736.74 126.78 1739.41 124.52 1743 123.88C1746.59 123.23 1751.38 123 1755.16 123C1758.94 123 1762.4 123.73 1765.66 123.88C1768.92 124.03 1771.68 124.21 1774.72 123.88C1777.76 123.55 1780.52 121.98 1783.89 121.89C1787.26 121.8 1791.08 123.05 1794.95 123.33C1798.82 123.61 1803.65 124.19 1807.11 123.55C1810.57 122.91 1812.88 120.66 1815.73 119.46C1818.59 118.26 1821.07 116.7 1824.24 116.37C1827.41 116.04 1831.15 116.51 1834.74 117.47C1838.33 118.43 1842.25 121.25 1845.79 122.12C1849.33 122.99 1852.64 123.13 1855.96 122.67C1859.28 122.21 1863.14 120.12 1865.68 119.35C1868.22 118.58 1870.29 118.25 1871.21 118.03" stroke="#f08c00" stroke-width="3.65" stroke-linecap="butt" stroke-dasharray="25.1 6.3 3.9 6.3"/>
<path d="M1088.54 83.1C1088.78 83.08 1088.15 83.25 1089.95 82.99C1091.75 82.73 1096.21 81.92 1099.34 81.55C1102.47 81.18 1105.61 80.96 1108.74 80.78C1111.87 80.6 1115 80.56 1118.13 80.45C1121.26 80.34 1124.4 80.25 1127.53 80.12C1130.66 79.99 1133.79 80.02 1136.92 79.67C1140.05 79.32 1143.19 78.31 1146.32 78.02C1149.45 77.73 1152.58 77.74 1155.71 77.91C1158.84 78.08 1161.94 78.81 1165.11 79.01C1168.28 79.21 1171.55 79.01 1174.72 79.12C1177.89 79.23 1181.06 79.04 1184.12 79.67C1187.18 80.3 1190.07 82.14 1193.07 82.88C1196.07 83.62 1199.05 84.03 1202.13 84.09C1205.21 84.15 1208.45 82.9 1211.53 83.21C1214.61 83.52 1217.64 84.9 1220.59 85.97C1223.54 87.04 1226.21 88.79 1229.21 89.62C1232.21 90.45 1235.48 90.42 1238.61 90.95C1241.74 91.48 1244.96 92.04 1248 92.83C1251.04 93.62 1253.8 94.96 1256.84 95.7C1259.88 96.44 1263.11 96.84 1266.24 97.25C1269.37 97.66 1272.5 98.02 1275.63 98.13C1278.76 98.24 1281.96 98.46 1285.03 97.91C1288.1 97.36 1291.07 95.92 1294.04 94.82C1297.01 93.71 1299.88 92.24 1302.88 91.28C1305.88 90.32 1308.95 89.46 1312.05 89.07C1315.14 88.68 1318.32 89.01 1321.45 88.96C1324.58 88.91 1327.74 89.14 1330.84 88.74C1333.93 88.33 1336.94 87.27 1340.02 86.53C1343.1 85.79 1346.19 84.87 1349.3 84.32C1352.41 83.77 1355.6 83.06 1358.69 83.21C1361.79 83.36 1364.87 84.28 1367.87 85.2C1370.87 86.12 1373.67 87.93 1376.71 88.74C1379.75 89.55 1382.98 89.84 1386.11 90.06C1389.24 90.28 1392.37 89.95 1395.5 90.06C1398.63 90.17 1401.8 90.25 1404.89 90.73C1407.99 91.21 1410.99 92.63 1414.07 92.94C1417.15 93.25 1420.27 93.18 1423.35 92.61C1426.43 92.04 1429.49 90.3 1432.53 89.51C1435.57 88.72 1438.5 87.89 1441.59 87.85C1444.68 87.81 1448.03 88.54 1451.09 89.29C1454.15 90.05 1456.92 91.4 1459.94 92.38C1462.96 93.36 1466.14 94.78 1469.22 95.15C1472.3 95.52 1475.27 94.83 1478.39 94.59C1481.51 94.35 1484.84 93.54 1487.96 93.71C1491.08 93.88 1494.04 94.95 1497.13 95.59C1500.23 96.23 1503.45 97.25 1506.53 97.58C1509.61 97.91 1512.5 97.58 1515.59 97.58C1518.68 97.58 1521.99 97.06 1525.09 97.58C1528.18 98.09 1531.18 99.66 1534.16 100.67C1537.14 101.68 1540.02 103.44 1543 103.66C1545.98 103.88 1549.06 102.89 1552.06 102C1555.06 101.11 1557.98 99.09 1561.02 98.35C1564.06 97.61 1567.22 98.04 1570.3 97.58C1573.38 97.12 1576.43 96.42 1579.47 95.59C1582.51 94.76 1585.46 93.25 1588.54 92.61C1591.62 91.97 1594.84 91.63 1597.93 91.72C1601.03 91.81 1604.07 92.37 1607.11 93.16C1610.15 93.95 1613.22 95.33 1616.17 96.47C1619.12 97.61 1621.79 99.37 1624.79 100.01C1627.79 100.66 1631.2 100.97 1634.18 100.34C1637.16 99.71 1639.83 97.63 1642.69 96.25C1645.55 94.87 1648.35 93.06 1651.32 92.05C1654.29 91.04 1657.41 90.12 1660.49 90.17C1663.57 90.22 1666.79 91.42 1669.77 92.38C1672.75 93.34 1675.43 95.28 1678.39 95.92C1681.35 96.56 1684.49 96.71 1687.52 96.25C1690.55 95.79 1693.56 93.95 1696.58 93.16C1699.6 92.37 1702.56 91.46 1705.64 91.5C1708.72 91.54 1711.94 92.7 1715.04 93.38C1718.13 94.06 1721.12 95.41 1724.21 95.59C1727.31 95.77 1730.48 94.83 1733.61 94.48C1736.74 94.13 1739.92 93.29 1743 93.49C1746.08 93.69 1749.15 94.52 1752.06 95.7C1754.97 96.88 1757.64 99.09 1760.46 100.56C1763.28 102.03 1766.02 104.12 1768.97 104.54C1771.92 104.97 1775.11 103.62 1778.15 103.11C1781.19 102.59 1784.19 101.73 1787.21 101.45C1790.23 101.17 1793.23 101.6 1796.27 101.45C1799.31 101.3 1802.76 99.64 1805.45 100.56C1808.14 101.48 1809.83 105.26 1812.41 106.97C1814.99 108.68 1817.97 110.38 1820.92 110.84C1823.87 111.3 1827.11 110.6 1830.09 109.74C1833.07 108.88 1836.03 107.12 1838.83 105.65C1841.63 104.18 1844.26 102.57 1846.89 100.89C1849.52 99.21 1851.81 97.01 1854.63 95.59C1857.45 94.17 1860.9 93.25 1863.81 92.38C1866.72 91.51 1870.72 90.7 1872.1 90.36" stroke="#5f933e" stroke-width="3.45" stroke-linecap="butt" stroke-dasharray="3.5 5.95"/>
<path d="M1088.54 104.43C1088.68 104.49 1088.42 104.06 1089.39 104.76C1090.36 105.46 1092.43 107.06 1094.37 108.63C1096.3 110.2 1098.97 112.41 1101 114.16C1103.03 115.91 1104.5 117.93 1106.53 119.13C1108.56 120.33 1110.95 121.38 1113.16 121.34C1115.37 121.3 1117.76 119.92 1119.79 118.91C1121.82 117.9 1123.29 116.61 1125.32 115.26C1127.35 113.92 1129.83 111.98 1131.95 110.84C1134.07 109.7 1136 108.81 1138.03 108.41C1140.06 108 1141.99 107.54 1144.11 108.41C1146.23 109.28 1148.71 112.1 1150.74 113.61C1152.77 115.12 1154.42 116.36 1156.26 117.47C1158.1 118.58 1159.76 119.81 1161.79 120.24C1163.82 120.66 1165.93 120.44 1168.42 120.02C1170.91 119.59 1174.22 118.39 1176.71 117.69C1179.2 116.99 1180.85 116.35 1183.34 115.82C1185.83 115.29 1189.18 114.86 1191.63 114.49C1194.08 114.12 1195.92 113.94 1198.04 113.61C1200.16 113.28 1201.91 112.74 1204.34 112.5C1206.77 112.26 1210.18 112.02 1212.63 112.17C1215.08 112.32 1217.01 112.77 1219.04 113.38C1221.07 113.99 1222.54 114.77 1224.79 115.82C1227.04 116.87 1230.23 118.61 1232.53 119.68C1234.83 120.75 1236.58 121.49 1238.61 122.23C1240.63 122.97 1242.38 123.43 1244.68 124.11C1246.98 124.79 1250.03 125.9 1252.42 126.32C1254.82 126.74 1256.84 126.96 1259.05 126.65C1261.26 126.34 1263.29 125.27 1265.68 124.44C1268.08 123.61 1271.12 122.5 1273.42 121.67C1275.72 120.84 1277.48 120.16 1279.5 119.46C1281.52 118.76 1283.07 117.98 1285.55 117.47C1288.03 116.95 1291.89 116.74 1294.37 116.37C1296.85 116 1298.42 115.57 1300.45 115.26C1302.48 114.95 1304.23 114.64 1306.53 114.49C1308.83 114.34 1311.74 114.4 1314.26 114.38C1316.78 114.36 1319.37 114.29 1321.67 114.38C1323.97 114.47 1325.45 114.73 1328.08 114.93C1330.71 115.13 1334.98 115.3 1337.47 115.59C1339.96 115.89 1341.07 116.42 1343 116.7C1344.93 116.98 1346.5 117.03 1349.08 117.25C1351.66 117.47 1355.93 117.75 1358.47 118.03C1361.01 118.31 1362.3 118.73 1364.33 118.91C1366.36 119.09 1368.11 119.55 1370.63 119.13C1373.15 118.71 1376.89 117.2 1379.47 116.37C1382.05 115.54 1383.53 114.34 1386.11 114.16C1388.69 113.97 1392.83 114.89 1394.95 115.26C1397.07 115.63 1397.22 115.82 1398.82 116.37C1400.42 116.92 1402.63 118.21 1404.56 118.58C1406.49 118.95 1407.88 118.54 1410.42 118.58C1412.96 118.62 1417.24 118.62 1419.82 118.8C1422.4 118.98 1423.87 119.44 1425.89 119.68C1427.92 119.92 1429.39 120.15 1431.97 120.24C1434.55 120.33 1438.79 120.28 1441.37 120.24C1443.95 120.2 1445.42 119.97 1447.45 120.02C1449.48 120.07 1450.95 120.39 1453.53 120.57C1456.11 120.75 1460.34 121.21 1462.92 121.12C1465.5 121.03 1466.97 120.48 1469 120.02C1471.03 119.56 1472.68 118.88 1475.08 118.36C1477.47 117.84 1480.93 117.22 1483.37 116.92C1485.81 116.62 1487.62 116.41 1489.73 116.59C1491.84 116.78 1493.78 117.15 1496.03 118.03C1498.28 118.91 1501.06 120.69 1503.21 121.89C1505.37 123.09 1507.03 124.42 1508.96 125.21C1510.89 126 1512.65 126.83 1514.82 126.65C1516.99 126.47 1519.51 124.48 1522 124.11C1524.49 123.74 1527.53 124.31 1529.74 124.44C1531.95 124.57 1532.77 124.81 1535.26 124.88C1537.75 124.95 1542.27 124.27 1544.66 124.88C1547.06 125.49 1547.88 127.55 1549.63 128.53C1551.38 129.51 1552.67 130.52 1555.16 130.74C1557.65 130.96 1561.97 130.4 1564.55 129.85C1567.13 129.3 1568.6 128.19 1570.63 127.42C1572.66 126.65 1574.32 125.85 1576.71 125.21C1579.11 124.56 1582.51 123.86 1585 123.55C1587.49 123.24 1589.6 123.7 1591.63 123.33C1593.66 122.96 1594.95 122.04 1597.16 121.34C1599.37 120.64 1602.5 119.77 1604.89 119.13C1607.29 118.48 1609.41 117.93 1611.53 117.47C1613.65 117.01 1615.22 116.55 1617.61 116.37C1620 116.19 1623.31 116.28 1625.89 116.37C1628.47 116.46 1630.87 116.74 1633.08 116.92C1635.29 117.1 1636.67 117.19 1639.16 117.47C1641.65 117.75 1645.46 118.16 1648 118.58C1650.54 119 1652.38 119.74 1654.41 120.02C1656.44 120.3 1657.54 120.2 1660.16 120.24C1662.78 120.28 1667.53 120.15 1670.11 120.24C1672.69 120.33 1673.61 120.33 1675.63 120.79C1677.66 121.25 1680.24 122.26 1682.26 123C1684.28 123.74 1685.35 124.71 1687.74 125.21C1690.13 125.71 1694.09 126.26 1696.58 125.98C1699.07 125.7 1700.54 124.54 1702.66 123.55C1704.78 122.56 1707.08 121.12 1709.29 120.02C1711.5 118.91 1713.8 117.47 1715.92 116.92C1718.04 116.37 1719.51 116.46 1722 116.7C1724.49 116.94 1728.35 117.81 1730.84 118.36C1733.33 118.91 1734.89 119.34 1736.92 120.02C1738.95 120.7 1740.51 121.77 1743 122.45C1745.49 123.13 1749.35 123.61 1751.84 124.11C1754.33 124.61 1755.89 125.01 1757.92 125.43C1759.95 125.85 1761.51 126.36 1764 126.65C1766.49 126.95 1770.35 127.2 1772.84 127.2C1775.33 127.2 1776.89 127.2 1778.92 126.65C1780.95 126.1 1782.51 124.12 1785 123.88C1787.49 123.64 1791.41 124.62 1793.84 125.21C1796.27 125.8 1797.65 126.83 1799.59 127.42C1801.52 128.01 1803.09 128.88 1805.45 128.75C1807.81 128.62 1811.4 127.61 1813.74 126.65C1816.08 125.69 1817.64 124.07 1819.48 123C1821.32 121.93 1822.43 120.88 1824.79 120.24C1827.15 119.59 1831.24 119.59 1833.63 119.13C1836.03 118.67 1837.5 117.93 1839.16 117.47C1840.82 117.01 1841.18 116.46 1843.58 116.37C1845.97 116.28 1850.73 116.37 1853.53 116.92C1856.33 117.47 1858.17 118.67 1860.38 119.68C1862.59 120.69 1864.98 122.26 1866.79 123C1868.6 123.74 1870.47 123.92 1871.21 124.11" stroke="#b93c46" stroke-width="3.2" stroke-linecap="butt" stroke-dasharray="10.5 3.6 3.5 3.6"/>
</g>
<path d="M1084.6 803.05v7.6M1183.24 803.05v7.6M1281.82 803.05v7.6M1380.36 803.05v7.6M1479 803.05v7.6M1577.59 803.05v7.6M1676.22 803.05v7.6M1774.46 803.05v7.6M1872.1 803.05v7.6M1084.6 803.05h-7.6M1084.6 707.56h-7.6M1084.6 612.06h-7.6M1084.6 516.57h-7.6M1084.6 421.07h-7.6M1084.6 325.58h-7.6M1084.6 230.09h-7.6M1084.6 134.59h-7.6M1084.6 39.1h-7.6" fill="none" stroke="#000" stroke-width="1.8"/>
<rect x="1084.6" y="39.1" width="787.5" height="763.95" fill="none" stroke="#000" stroke-width="1.95"/>
<g font-size="27.4">
<text x="1084.6" y="840.05" text-anchor="middle" font-size="26.9">0</text>
<text x="1183.24" y="840.05" text-anchor="middle" font-size="26.9">25</text>
<text x="1281.82" y="840.05" text-anchor="middle" font-size="26.9">50</text>
<text x="1380.36" y="840.05" text-anchor="middle" font-size="26.9">75</text>
<text x="1478.3" y="840.05" text-anchor="middle" font-size="26.9">100</text>
<text x="1576.89" y="840.05" text-anchor="middle" font-size="26.9">125</text>
<text x="1675.52" y="840.05" text-anchor="middle" font-size="26.9">150</text>
<text x="1773.76" y="840.05" text-anchor="middle" font-size="26.9">175</text>
<text x="1872.1" y="840.05" text-anchor="middle" font-size="26.9">200</text>
<text x="1069.7" y="814.05" text-anchor="end">0.0</text>
<text x="1069.7" y="718.56" text-anchor="end">0.1</text>
<text x="1069.7" y="623.06" text-anchor="end">0.2</text>
<text x="1069.7" y="527.57" text-anchor="end">0.3</text>
<text x="1069.7" y="432.07" text-anchor="end">0.4</text>
<text x="1069.7" y="336.58" text-anchor="end">0.5</text>
<text x="1069.7" y="241.09" text-anchor="end">0.6</text>
<text x="1069.7" y="145.59" text-anchor="end">0.7</text>
<text x="1069.7" y="50.1" text-anchor="end">0.8</text>
</g>
<text x="1477.75" y="875.65" text-anchor="middle" font-size="31.8">Epoch</text>
<text transform="translate(1011.1 422.88) rotate(-90)" text-anchor="middle" font-size="32.1">Training Loss</text>
<text x="1084.3" y="26.6" font-size="31.9">(b) Cardiac Arrest Prediction</text>
<rect x="1579.1" y="590.45" width="279.9" height="199.65" rx="2.6" fill="#fff" fill-opacity="0.9" stroke="#828282" stroke-width="1.9"/>
<g font-size="25.45">
<path d="M1589.3 611.85H1641.9" fill="none" stroke="#1473a5" stroke-width="4.35" stroke-linecap="square"/>
<text x="1662.8" y="621.35">DRAGON-MINE</text>
<path d="M1589.3 650.45H1641.9" fill="none" stroke="#992869" stroke-width="3.65" stroke-linecap="butt" stroke-dasharray="14.4 6.3"/>
<text x="1662.8" y="659.95">Transformer</text>
<path d="M1589.3 689.05H1641.9" fill="none" stroke="#f08c00" stroke-width="3.65" stroke-linecap="butt" stroke-dasharray="25.1 6.3 3.9 6.3"/>
<text x="1662.8" y="698.55">Fed-Ensemble</text>
<path d="M1589.3 727.65H1641.9" fill="none" stroke="#5f933e" stroke-width="3.45" stroke-linecap="butt" stroke-dasharray="3.5 5.95"/>
<text x="1662.8" y="737.15">LSTM</text>
<path d="M1589.3 766.25H1641.9" fill="none" stroke="#b93c46" stroke-width="3.2" stroke-linecap="butt" stroke-dasharray="10.5 3.6 3.5 3.6"/>
<text x="1662.8" y="775.75">XGBoost</text>
</g>
</g>
<g>
<path d="M199.11 1799.5V1033.2M297.68 1799.5V1033.2M396.19 1799.5V1033.2M494.8 1799.5V1033.2M593.36 1799.5V1033.2M691.98 1799.5V1033.2M790.19 1799.5V1033.2M100.5 1703.71H887.8M100.5 1607.92H887.8M100.5 1512.14H887.8M100.5 1416.35H887.8M100.5 1320.56H887.8M100.5 1224.78H887.8M100.5 1128.99H887.8" fill="none" stroke="#e4e4e4" stroke-width="1.3" stroke-dasharray="5.9 2.6"/>
<clipPath id="clip-c"><rect x="100.5" y="1033.2" width="787.3" height="766.3"/></clipPath>
<g clip-path="url(#clip-c)" fill="none" stroke-linejoin="round">
<path d="M104.44 1099.76C104.6 1099.76 104.03 1099.79 105.39 1099.75C106.75 1099.71 109.54 1099.53 112.58 1099.53C115.62 1099.53 119.95 1099.47 123.63 1099.75C127.31 1100.03 131 1100.7 134.68 1101.18C138.37 1101.66 142.06 1102.34 145.74 1102.62C149.43 1102.9 153.11 1102.93 156.79 1102.84C160.47 1102.75 164.16 1102.07 167.84 1102.07C171.52 1102.07 175.2 1102.58 178.89 1102.84C182.57 1103.1 186.26 1103.53 189.95 1103.62C193.63 1103.71 197.32 1103.61 201 1103.39C204.68 1103.17 208.37 1102.47 212.05 1102.29C215.74 1102.11 219.43 1102.07 223.11 1102.29C226.8 1102.51 230.48 1103.34 234.16 1103.62C237.84 1103.9 241.53 1103.89 245.21 1103.95C248.89 1104.01 252.57 1103.67 256.26 1103.95C259.94 1104.23 263.63 1105.15 267.32 1105.61C271 1106.07 274.69 1106.56 278.37 1106.71C282.05 1106.86 285.74 1106.58 289.42 1106.49C293.1 1106.4 297.53 1106.22 300.47 1106.16C303.41 1106.11 304.11 1106.03 307.05 1106.16C309.99 1106.29 314.43 1106.8 318.11 1106.93C321.8 1107.06 325.48 1107.06 329.16 1106.93C332.84 1106.8 336.53 1106.47 340.21 1106.16C343.89 1105.85 347.57 1105.11 351.26 1105.05C354.94 1104.99 358.63 1105.33 362.32 1105.83C366 1106.33 369.69 1107.49 373.37 1108.04C377.05 1108.59 380.74 1108.9 384.42 1109.14C388.1 1109.38 391.79 1109.14 395.47 1109.47C399.16 1109.8 402.84 1110.43 406.53 1111.13C410.21 1111.83 413.9 1113.12 417.58 1113.67C421.26 1114.22 424.95 1114.51 428.63 1114.45C432.31 1114.39 436 1113.98 439.68 1113.34C443.37 1112.69 447.06 1111.32 450.74 1110.58C454.43 1109.84 458.11 1109.16 461.79 1108.92C465.47 1108.68 469.16 1109.01 472.84 1109.14C476.52 1109.27 480.2 1109.45 483.89 1109.69C487.57 1109.93 491.09 1110.06 494.95 1110.58C498.81 1111.1 503.19 1111.87 507.05 1112.79C510.91 1113.71 514.43 1115.28 518.11 1116.11C521.79 1116.94 525.48 1117.34 529.16 1117.76C532.84 1118.18 536.53 1118.6 540.21 1118.65C543.89 1118.71 547.58 1118.51 551.26 1118.09C554.94 1117.67 558.63 1116.9 562.32 1116.11C566.01 1115.32 569.69 1113.93 573.37 1113.34C577.05 1112.75 580.74 1112.51 584.42 1112.57C588.1 1112.62 591.79 1113.17 595.47 1113.67C599.15 1114.17 602.85 1115.11 606.53 1115.55C610.21 1115.99 613.9 1116.05 617.58 1116.33C621.26 1116.61 624.95 1116.79 628.63 1117.21C632.31 1117.63 635.99 1118.59 639.68 1118.87C643.37 1119.15 647.06 1119.02 650.74 1118.87C654.42 1118.72 658.11 1118.13 661.79 1117.98C665.47 1117.83 669.16 1117.74 672.84 1117.98C676.52 1118.22 680.2 1118.9 683.89 1119.42C687.58 1119.94 691.09 1120.99 694.95 1121.08C698.81 1121.17 703.19 1120.34 707.05 1119.97C710.91 1119.6 714.42 1119.09 718.11 1118.87C721.8 1118.65 725.48 1118.47 729.16 1118.65C732.84 1118.83 736.53 1119.57 740.21 1119.97C743.89 1120.38 747.58 1120.8 751.26 1121.08C754.94 1121.36 758.63 1121.45 762.32 1121.63C766.01 1121.81 769.69 1122.05 773.37 1122.18C777.05 1122.31 780.74 1122.5 784.42 1122.41C788.1 1122.32 791.79 1121.67 795.47 1121.63C799.15 1121.59 802.85 1121.9 806.53 1122.18C810.21 1122.46 813.9 1123.07 817.58 1123.29C821.26 1123.51 824.95 1123.33 828.63 1123.51C832.31 1123.69 835.99 1124.06 839.68 1124.39C843.37 1124.72 847.06 1125.5 850.74 1125.5C854.42 1125.5 858.11 1124.58 861.79 1124.39C865.47 1124.21 868.6 1124.08 872.84 1124.39C877.08 1124.7 884.82 1125.96 887.21 1126.27" stroke="#1473a5" stroke-width="4.35" stroke-linecap="square"/>
<path d="M104.44 1085.55C104.6 1085.54 103.11 1085.78 105.39 1085.49C107.67 1085.2 114.7 1084.16 118.11 1083.83C121.52 1083.5 122.43 1083.43 125.84 1083.5C129.25 1083.57 135.14 1083.85 138.55 1084.27C141.96 1084.69 142.79 1085.49 146.29 1086.04C149.79 1086.59 156.05 1087.33 159.55 1087.59C163.05 1087.85 163.79 1087.11 167.29 1087.59C170.79 1088.07 177.14 1089.43 180.55 1090.46C183.96 1091.49 184.52 1092.88 187.74 1093.78C190.96 1094.68 196.57 1095.97 199.89 1095.88C203.2 1095.79 204.13 1094.1 207.63 1093.23C211.13 1092.36 217.48 1090.55 220.89 1090.68C224.3 1090.81 224.86 1092.75 228.08 1094C231.31 1095.25 237.02 1096.86 240.24 1098.2C243.46 1099.55 244.01 1101.66 247.42 1102.07C250.83 1102.47 257.27 1101.46 260.68 1100.63C264.09 1099.8 264.55 1098.32 267.87 1097.09C271.19 1095.86 277.26 1093.78 280.58 1093.23C283.89 1092.68 284.45 1092.93 287.76 1093.78C291.07 1094.63 297.24 1096.8 300.45 1098.31C303.66 1099.82 304.11 1101.62 307.05 1102.84C309.99 1104.06 314.98 1105.52 318.11 1105.61C321.24 1105.7 322.52 1104.87 325.84 1103.39C329.15 1101.92 334.68 1098.42 338 1096.76C341.32 1095.1 342.33 1094.28 345.74 1093.45C349.15 1092.62 355.04 1092.1 358.45 1091.79C361.86 1091.48 362.77 1091.24 366.18 1091.57C369.59 1091.9 375.48 1092.91 378.89 1093.78C382.3 1094.64 383.31 1095.62 386.63 1096.76C389.95 1097.9 395.47 1100.08 398.79 1100.63C402.11 1101.18 403.31 1100.91 406.53 1100.08C409.75 1099.25 414.81 1096.64 418.13 1095.66C421.44 1094.68 422.92 1094.07 426.42 1094.22C429.92 1094.37 435.72 1095.93 439.13 1096.54C442.54 1097.15 443.46 1097.41 446.87 1097.87C450.28 1098.33 456.08 1099.31 459.58 1099.31C463.08 1099.31 464.46 1098.24 467.87 1097.87C471.28 1097.5 476.53 1096.78 480.03 1097.09C483.53 1097.4 485.28 1099.11 488.87 1099.75C492.46 1100.39 498.15 1100.43 501.55 1100.91C504.95 1101.39 505.76 1102.02 509.26 1102.62C512.76 1103.22 519.12 1104.83 522.53 1104.5C525.94 1104.17 526.39 1101.77 529.71 1100.63C533.03 1099.49 539.01 1097.74 542.42 1097.65C545.83 1097.56 546.75 1099.07 550.16 1100.08C553.57 1101.09 559.46 1103.12 562.87 1103.73C566.28 1104.34 567.2 1103.91 570.61 1103.73C574.02 1103.55 579.82 1102.44 583.32 1102.62C586.82 1102.8 588.11 1104.74 591.61 1104.83C595.11 1104.92 600.91 1103.93 604.32 1103.17C607.73 1102.41 608.64 1101.09 612.05 1100.3C615.46 1099.51 621.26 1099.01 624.76 1098.42C628.26 1097.83 629.55 1096.94 633.05 1096.76C636.55 1096.58 642.35 1096.8 645.76 1097.32C649.17 1097.84 650.18 1098.75 653.5 1099.86C656.82 1100.96 662.25 1103.27 665.66 1103.95C669.07 1104.63 670.54 1104.56 673.95 1103.95C677.36 1103.34 682.8 1101.07 686.11 1100.3C689.42 1099.53 690.53 1098.7 693.84 1099.31C697.15 1099.92 702.64 1102.72 705.95 1103.95C709.26 1105.18 710.37 1106.21 713.68 1106.71C716.99 1107.21 722.43 1106.89 725.84 1106.93C729.25 1106.97 730.72 1107.24 734.13 1106.93C737.54 1106.62 742.7 1105.23 746.29 1105.05C749.88 1104.87 752 1105.83 755.68 1105.83C759.36 1105.83 764.89 1105.36 768.39 1105.05C771.89 1104.74 773.27 1103.67 776.68 1103.95C780.09 1104.23 785.62 1105.7 788.84 1106.71C792.07 1107.72 792.71 1108.96 796.03 1110.03C799.35 1111.1 805.24 1112.94 808.74 1113.12C812.24 1113.3 813.62 1111.74 817.03 1111.13C820.44 1110.52 825.77 1109.25 829.18 1109.47C832.59 1109.69 834.06 1111.54 837.47 1112.46C840.88 1113.38 846.31 1115.04 849.63 1115C852.95 1114.96 853.96 1113.22 857.37 1112.24C860.78 1111.26 866.67 1109.69 870.08 1109.14C873.49 1108.59 874.97 1108.87 877.82 1108.92C880.68 1108.98 885.64 1109.38 887.21 1109.47" stroke="#992869" stroke-width="3.65" stroke-linecap="butt" stroke-dasharray="14.4 6.3"/>
<path d="M104.44 1085.53C104.6 1085.56 103.48 1085.04 105.39 1085.71C107.3 1086.38 112.2 1088.23 115.89 1089.58C119.58 1090.92 124.09 1093.41 127.5 1093.78C130.91 1094.15 133.3 1092.64 136.34 1091.79C139.38 1090.94 142.7 1088.97 145.74 1088.69C148.78 1088.41 150.99 1088.97 154.58 1090.13C158.17 1091.29 163.66 1094.52 167.29 1095.66C170.92 1096.8 173.31 1096.74 176.35 1096.98C179.39 1097.22 181.97 1096.66 185.53 1097.09C189.09 1097.51 193.81 1098.98 197.68 1099.53C201.55 1100.08 205.37 1100.45 208.74 1100.41C212.11 1100.37 214.78 1099.7 217.91 1099.31C221.04 1098.92 224.09 1097.78 227.53 1098.09C230.97 1098.4 234.9 1099.87 238.58 1101.18C242.26 1102.49 246.35 1105.2 249.63 1105.94C252.91 1106.68 255.3 1106.03 258.25 1105.61C261.2 1105.18 263.97 1103.43 267.32 1103.39C270.67 1103.35 274.5 1104.97 278.37 1105.38C282.24 1105.79 286.94 1105.98 290.53 1105.83C294.12 1105.68 296.8 1104.48 299.92 1104.5C303.04 1104.52 305.95 1105.33 309.26 1105.94C312.57 1106.55 316.07 1108.24 319.76 1108.15C323.44 1108.06 327.96 1106.63 331.37 1105.38C334.78 1104.13 337.26 1101.18 340.21 1100.63C343.16 1100.08 345.92 1100.78 349.05 1102.07C352.18 1103.36 355.31 1106.9 359 1108.37C362.69 1109.84 367.72 1110.78 371.16 1110.91C374.61 1111.04 376.72 1109.93 379.67 1109.14C382.62 1108.35 385.47 1107.3 388.84 1106.16C392.21 1105.02 396.2 1102.88 399.89 1102.29C403.57 1101.7 407.6 1102.16 410.95 1102.62C414.3 1103.08 416.97 1104.4 420.01 1105.05C423.05 1105.69 425.72 1105.81 429.18 1106.49C432.64 1107.17 437.11 1108.09 440.79 1109.14C444.48 1110.19 447.98 1111.78 451.29 1112.79C454.61 1113.8 457.55 1115.13 460.68 1115.22C463.81 1115.31 466.58 1113.84 470.08 1113.34C473.58 1112.84 477.9 1112.15 481.68 1112.24C485.46 1112.33 489.34 1113.34 492.74 1113.89C496.14 1114.44 498.99 1115.22 502.11 1115.55C505.23 1115.88 508.07 1116.43 511.47 1115.88C514.87 1115.33 518.66 1113.07 522.53 1112.24C526.4 1111.41 531.22 1110.86 534.68 1110.91C538.14 1110.97 540.36 1112.07 543.31 1112.57C546.26 1113.07 549.02 1114.13 552.37 1113.89C555.72 1113.65 559.55 1111.77 563.42 1111.13C567.29 1110.49 572.13 1109.61 575.58 1110.03C579.03 1110.45 581.24 1112.53 584.09 1113.67C586.95 1114.81 589.34 1116.38 592.71 1116.88C596.08 1117.38 600.45 1116.94 604.32 1116.66C608.19 1116.38 612.42 1115.87 615.92 1115.22C619.42 1114.58 622.19 1113.56 625.32 1112.79C628.45 1112.02 631.21 1111.13 634.71 1110.58C638.21 1110.03 642.45 1109.75 646.32 1109.47C650.19 1109.19 654.46 1109.33 657.92 1108.92C661.38 1108.52 664.05 1107.13 667.09 1107.04C670.13 1106.95 672.99 1107.32 676.16 1108.37C679.33 1109.42 682.61 1111.68 686.11 1113.34C689.61 1115 693.85 1117.16 697.16 1118.32C700.47 1119.48 702.83 1119.94 705.95 1120.31C709.07 1120.68 712.39 1121.23 715.89 1120.53C719.39 1119.83 723.45 1117.58 726.95 1116.11C730.45 1114.63 733.61 1112.36 736.89 1111.68C740.17 1111 743.49 1111.47 746.62 1112.02C749.75 1112.57 752.33 1113.95 755.68 1115C759.03 1116.05 763.06 1118.13 766.74 1118.32C770.42 1118.5 774.33 1116.53 777.79 1116.11C781.25 1115.68 784.48 1115.71 787.52 1115.77C790.56 1115.83 792.49 1116.38 796.03 1116.44C799.57 1116.5 804.69 1115.89 808.74 1116.11C812.79 1116.33 816.89 1117.26 820.34 1117.76C823.79 1118.26 826.37 1118.48 829.41 1119.09C832.45 1119.7 835.03 1120.62 838.58 1121.41C842.13 1122.2 847.24 1124.08 850.74 1123.84C854.24 1123.6 856.54 1120.89 859.58 1119.97C862.62 1119.05 865.93 1119.06 868.97 1118.32C872.01 1117.58 874.78 1116.05 877.82 1115.55C880.86 1115.05 885.64 1115.37 887.21 1115.33" stroke="#f08c00" stroke-width="3.65" stroke-linecap="butt" stroke-dasharray="25.1 6.3 3.9 6.3"/>
<path d="M104.44 1069.24C104.69 1069.26 104.13 1069.09 105.95 1069.35C107.77 1069.61 112.25 1070.73 115.34 1070.79C118.44 1070.85 121.42 1070.09 124.52 1069.68C127.61 1069.28 130.78 1068.67 133.91 1068.36C137.04 1068.05 140.2 1068.27 143.31 1067.81C146.42 1067.35 149.57 1066.47 152.59 1065.59C155.61 1064.7 158.37 1063.05 161.43 1062.5C164.49 1061.95 168.03 1061.49 170.94 1062.28C173.85 1063.07 176.46 1065.34 178.89 1067.25C181.32 1069.16 183.17 1071.74 185.53 1073.77C187.89 1075.8 190.31 1077.84 193.04 1079.41C195.76 1080.98 198.86 1082.34 201.88 1083.17C204.9 1084 208.04 1084.05 211.17 1084.38C214.3 1084.71 217.52 1085.12 220.67 1085.16C223.82 1085.2 226.96 1084.92 230.07 1084.61C233.18 1084.3 236.24 1083.28 239.35 1083.28C242.46 1083.28 245.78 1083.69 248.75 1084.61C251.72 1085.53 254.37 1087.34 257.15 1088.81C259.93 1090.28 262.55 1092.22 265.44 1093.45C268.33 1094.68 271.43 1095.75 274.5 1096.21C277.57 1096.67 280.85 1096.86 283.89 1096.21C286.93 1095.57 289.88 1093.78 292.74 1092.34C295.6 1090.9 298.13 1088.79 301.03 1087.59C303.93 1086.39 307.06 1085.33 310.15 1085.16C313.24 1084.99 316.43 1086.13 319.54 1086.59C322.65 1087.05 325.7 1087.75 328.83 1087.92C331.96 1088.09 335.2 1088.01 338.33 1087.59C341.46 1087.17 344.58 1086.12 347.62 1085.38C350.66 1084.64 353.48 1083.76 356.57 1083.17C359.66 1082.58 363.01 1082.21 366.18 1081.84C369.35 1081.47 372.45 1081.29 375.58 1080.96C378.71 1080.63 381.84 1079.92 384.97 1079.85C388.1 1079.78 391.27 1080.13 394.37 1080.52C397.47 1080.91 400.45 1081.77 403.54 1082.17C406.63 1082.58 409.92 1083.37 412.94 1082.95C415.96 1082.53 418.78 1080.77 421.67 1079.63C424.56 1078.49 427.29 1076.95 430.29 1076.09C433.29 1075.22 436.55 1074.92 439.68 1074.44C442.81 1073.96 446.13 1072.91 449.08 1073.22C452.03 1073.53 454.85 1074.66 457.37 1076.32C459.89 1077.98 461.77 1081.27 464.22 1083.17C466.67 1085.07 469.16 1086.63 472.07 1087.7C474.98 1088.77 478.55 1089.49 481.68 1089.58C484.81 1089.67 487.82 1088.99 490.86 1088.25C493.9 1087.51 496.85 1085.81 499.92 1085.16C502.99 1084.52 506.14 1084.29 509.26 1084.38C512.38 1084.47 515.56 1085.12 518.66 1085.71C521.75 1086.3 524.79 1087.09 527.83 1087.92C530.87 1088.75 533.81 1090.07 536.89 1090.68C539.97 1091.29 543.16 1091.26 546.29 1091.57C549.42 1091.88 552.55 1092.25 555.68 1092.56C558.81 1092.87 562.08 1093.95 565.08 1093.45C568.08 1092.95 570.94 1091.11 573.7 1089.58C576.46 1088.05 578.9 1085.71 581.66 1084.27C584.42 1082.83 587.3 1081.49 590.28 1080.96C593.26 1080.43 596.52 1080.55 599.56 1081.07C602.6 1081.59 605.57 1082.91 608.52 1084.05C611.47 1085.19 614.27 1086.91 617.25 1087.92C620.23 1088.93 623.32 1089.85 626.42 1090.13C629.51 1090.41 632.69 1089.95 635.82 1089.58C638.95 1089.21 642.13 1088.6 645.21 1087.92C648.29 1087.24 651.19 1086.08 654.27 1085.49C657.35 1084.9 660.57 1084.25 663.67 1084.38C666.76 1084.51 669.78 1085.63 672.84 1086.26C675.9 1086.89 678.89 1087.9 682.02 1088.14C685.15 1088.38 688.46 1087.77 691.63 1087.7C694.8 1087.63 698 1087.26 701.03 1087.7C704.06 1088.14 706.88 1089.34 709.82 1090.35C712.76 1091.36 715.75 1092.56 718.66 1093.78C721.57 1095 724.42 1096.23 727.28 1097.65C730.13 1099.07 732.9 1101.09 735.79 1102.29C738.68 1103.49 741.59 1104.7 744.63 1104.83C747.67 1104.96 750.95 1103.76 754.03 1103.06C757.11 1102.36 760.05 1101.26 763.09 1100.63C766.13 1100.01 769.13 1099.81 772.26 1099.31C775.39 1098.81 778.71 1098.04 781.88 1097.65C785.05 1097.26 788.12 1097.04 791.27 1096.98C794.42 1096.92 797.63 1097.36 800.78 1097.32C803.93 1097.28 807.06 1096.7 810.17 1096.76C813.28 1096.82 816.38 1097.06 819.46 1097.65C822.54 1098.24 825.53 1099.58 828.63 1100.3C831.73 1101.02 834.9 1101.48 838.03 1101.96C841.16 1102.44 844.29 1102.93 847.42 1103.17C850.55 1103.41 853.74 1103.72 856.82 1103.39C859.9 1103.06 862.84 1101.82 865.88 1101.18C868.92 1100.54 871.99 1100.12 875.05 1099.53C878.11 1098.94 882.11 1098.05 884.23 1097.65C886.36 1097.25 887.2 1097.22 887.8 1097.13" stroke="#5f933e" stroke-width="3.45" stroke-linecap="butt" stroke-dasharray="3.5 5.95"/>
<path d="M104.44 1100.23C104.6 1100.2 104.03 1100.47 105.39 1100.08C106.75 1099.69 110.31 1098.79 112.58 1097.87C114.85 1096.95 116.87 1095.29 118.99 1094.55C121.11 1093.81 123.23 1093.12 125.29 1093.45C127.35 1093.78 129.29 1095.16 131.37 1096.54C133.45 1097.92 135.75 1100.14 137.78 1101.74C139.81 1103.34 141.38 1104.78 143.53 1106.16C145.69 1107.54 148.5 1109.02 150.71 1110.03C152.92 1111.04 154.76 1111.78 156.79 1112.24C158.82 1112.7 160.47 1112.92 162.87 1112.79C165.27 1112.66 168.73 1112.07 171.16 1111.46C173.59 1110.85 175.34 1109.84 177.46 1109.14C179.58 1108.44 181.42 1107.66 183.87 1107.26C186.32 1106.86 189.71 1106.75 192.16 1106.71C194.61 1106.67 196.45 1106.89 198.57 1107.04C200.69 1107.19 202.44 1107.28 204.87 1107.59C207.3 1107.9 210.67 1108.42 213.16 1108.92C215.65 1109.42 217.67 1110.03 219.79 1110.58C221.91 1111.13 223.47 1111.63 225.87 1112.24C228.27 1112.85 231.67 1113.73 234.16 1114.23C236.65 1114.73 238.67 1114.94 240.79 1115.22C242.91 1115.5 244.66 1115.36 246.87 1115.88C249.08 1116.4 251.79 1117.36 254.05 1118.32C256.31 1119.28 258.34 1120.62 260.46 1121.63C262.58 1122.64 264.33 1123.69 266.76 1124.39C269.19 1125.09 272.6 1125.4 275.05 1125.83C277.5 1126.25 279.43 1126.44 281.46 1126.94C283.49 1127.44 284.96 1128.14 287.21 1128.82C289.46 1129.5 292.52 1130.74 294.95 1131.03C297.38 1131.32 299.57 1131.13 301.77 1130.58C303.97 1130.03 305.81 1128.32 308.16 1127.71C310.51 1127.1 313.62 1127.49 315.89 1126.94C318.15 1126.39 319.72 1125.09 321.75 1124.39C323.78 1123.69 325.53 1122.87 328.05 1122.74C330.57 1122.61 334.4 1123.47 336.89 1123.62C339.38 1123.77 340.94 1124.04 342.97 1123.62C345 1123.2 346.66 1121.45 349.05 1121.08C351.44 1120.71 354.91 1121.47 357.34 1121.41C359.77 1121.36 361.52 1121.14 363.64 1120.75C365.76 1120.36 367.69 1119.72 370.05 1119.09C372.41 1118.46 375.45 1117.63 377.79 1116.99C380.13 1116.35 381.97 1115.5 384.09 1115.22C386.21 1114.94 387.87 1115.49 390.5 1115.33C393.13 1115.16 397.4 1114.74 399.89 1114.23C402.38 1113.72 403.49 1113 405.42 1112.24C407.36 1111.48 409.29 1110.67 411.5 1109.69C413.71 1108.71 416.42 1107.39 418.68 1106.38C420.94 1105.37 422.97 1104.21 425.09 1103.62C427.21 1103.03 428.96 1102.82 431.39 1102.84C433.82 1102.86 437.29 1103.09 439.68 1103.73C442.07 1104.38 443.73 1105.85 445.76 1106.71C447.79 1107.58 449.54 1108.18 451.84 1108.92C454.14 1109.66 457.09 1110.67 459.58 1111.13C462.07 1111.59 464.55 1111.96 466.76 1111.68C468.97 1111.4 470.54 1110.11 472.84 1109.47C475.14 1108.83 478.13 1108 480.58 1107.82C483.03 1107.64 485.33 1108.09 487.54 1108.37C489.75 1108.64 491.41 1108.92 493.84 1109.47C496.27 1110.02 499.63 1110.94 502.11 1111.68C504.59 1112.42 506.69 1112.97 508.71 1113.89C510.73 1114.81 512.12 1116.25 514.24 1117.21C516.36 1118.17 519.06 1119.31 521.42 1119.64C523.78 1119.97 526.17 1119.27 528.38 1119.2C530.59 1119.13 532.34 1118.89 534.68 1119.2C537.02 1119.51 540.15 1120.16 542.42 1121.08C544.69 1122 546.35 1123.72 548.28 1124.73C550.21 1125.74 551.69 1126.98 554.03 1127.16C556.37 1127.34 559.87 1126.11 562.32 1125.83C564.77 1125.55 566.61 1125.43 568.73 1125.5C570.85 1125.57 572.6 1126.27 575.03 1126.27C577.46 1126.27 580.83 1125.81 583.32 1125.5C585.81 1125.19 587.83 1124.52 589.95 1124.39C592.07 1124.26 593.63 1124.55 596.03 1124.73C598.42 1124.91 601.93 1125.87 604.32 1125.5C606.71 1125.13 608.37 1123.31 610.39 1122.52C612.41 1121.73 614.17 1121.17 616.47 1120.75C618.77 1120.33 621.76 1120.01 624.21 1119.97C626.66 1119.93 628.96 1120.07 631.17 1120.53C633.38 1120.99 635.13 1122.28 637.47 1122.74C639.81 1123.2 642.87 1123.66 645.21 1123.29C647.55 1122.92 649.39 1120.95 651.51 1120.53C653.63 1120.11 655.65 1120.71 657.92 1120.75C660.19 1120.79 662.68 1121.06 665.11 1120.75C667.54 1120.44 670.21 1119.27 672.51 1118.87C674.81 1118.46 676.65 1118.69 678.92 1118.32C681.19 1117.95 683.81 1117.16 686.11 1116.66C688.41 1116.16 690.62 1115.15 692.74 1115.33C694.86 1115.51 696.62 1116.93 698.82 1117.76C701.02 1118.59 703.66 1120.22 705.95 1120.31C708.24 1120.4 710.55 1119.02 712.58 1118.32C714.61 1117.62 715.9 1116.9 718.11 1116.11C720.32 1115.32 723.45 1114.15 725.84 1113.56C728.23 1112.97 730.54 1111.96 732.47 1112.57C734.4 1113.18 735.61 1115.7 737.45 1117.21C739.29 1118.72 741.47 1120.43 743.53 1121.63C745.59 1122.83 747.81 1123.62 749.83 1124.39C751.86 1125.16 753.41 1125.81 755.68 1126.27C757.94 1126.73 760.89 1127.44 763.42 1127.16C765.94 1126.88 768.62 1125.45 770.83 1124.62C773.04 1123.79 774.41 1122.68 776.68 1122.18C778.94 1121.68 782.02 1121.69 784.42 1121.63C786.81 1121.58 788.93 1121.85 791.05 1121.85C793.17 1121.85 794.74 1121.48 797.13 1121.63C799.52 1121.78 802.93 1122.1 805.42 1122.74C807.91 1123.38 810.02 1124.58 812.05 1125.5C814.08 1126.42 815.19 1127.43 817.58 1128.26C819.98 1129.09 823.84 1130.32 826.42 1130.47C829 1130.62 831.02 1129.98 833.05 1129.15C835.08 1128.32 836.55 1126.61 838.58 1125.5C840.61 1124.39 843 1123.2 845.21 1122.52C847.42 1121.84 849.81 1121.47 851.84 1121.41C853.87 1121.35 854.98 1121.68 857.37 1122.18C859.76 1122.68 863.63 1123.69 866.21 1124.39C868.79 1125.09 870.72 1125.46 872.84 1126.38C874.96 1127.3 876.52 1128.69 878.92 1129.92C881.31 1131.15 885.83 1133.14 887.21 1133.79" stroke="#b93c46" stroke-width="3.2" stroke-linecap="butt" stroke-dasharray="10.5 3.6 3.5 3.6"/>
</g>
<path d="M100.5 1799.5v7.6M199.11 1799.5v7.6M297.68 1799.5v7.6M396.19 1799.5v7.6M494.8 1799.5v7.6M593.36 1799.5v7.6M691.98 1799.5v7.6M790.19 1799.5v7.6M887.8 1799.5v7.6M100.5 1799.5h-7.6M100.5 1703.71h-7.6M100.5 1607.92h-7.6M100.5 1512.14h-7.6M100.5 1416.35h-7.6M100.5 1320.56h-7.6M100.5 1224.78h-7.6M100.5 1128.99h-7.6M100.5 1033.2h-7.6" fill="none" stroke="#000" stroke-width="1.8"/>
<rect x="100.5" y="1033.2" width="787.3" height="766.3" fill="none" stroke="#000" stroke-width="1.95"/>
<g font-size="27.4">
<text x="100.5" y="1834.6" text-anchor="middle" font-size="26.9">0</text>
<text x="199.11" y="1834.6" text-anchor="middle" font-size="26.9">25</text>
<text x="297.68" y="1834.6" text-anchor="middle" font-size="26.9">50</text>
<text x="396.19" y="1834.6" text-anchor="middle" font-size="26.9">75</text>
<text x="494.1" y="1834.6" text-anchor="middle" font-size="26.9">100</text>
<text x="592.66" y="1834.6" text-anchor="middle" font-size="26.9">125</text>
<text x="691.27" y="1834.6" text-anchor="middle" font-size="26.9">150</text>
<text x="789.49" y="1834.6" text-anchor="middle" font-size="26.9">175</text>
<text x="887.8" y="1834.6" text-anchor="middle" font-size="26.9">200</text>
<text x="85.6" y="1810.5" text-anchor="end">0.0</text>
<text x="85.6" y="1714.71" text-anchor="end">0.1</text>
<text x="85.6" y="1618.92" text-anchor="end">0.2</text>
<text x="85.6" y="1523.14" text-anchor="end">0.3</text>
<text x="85.6" y="1427.35" text-anchor="end">0.4</text>
<text x="85.6" y="1331.56" text-anchor="end">0.5</text>
<text x="85.6" y="1235.78" text-anchor="end">0.6</text>
<text x="85.6" y="1139.99" text-anchor="end">0.7</text>
<text x="85.6" y="1044.2" text-anchor="end">0.8</text>
</g>
<text x="493.55" y="1871.5" text-anchor="middle" font-size="31.8">Epoch</text>
<text transform="translate(27 1418.15) rotate(-90)" text-anchor="middle" font-size="32.1">Training Loss</text>
<text x="100.2" y="1020.7" font-size="31.9">(c) ADR Prediction</text>
<rect x="594.8" y="1585.45" width="279.9" height="201" rx="2.6" fill="#fff" fill-opacity="0.9" stroke="#828282" stroke-width="1.9"/>
<g font-size="25.45">
<path d="M605 1606.65H657.6" fill="none" stroke="#1473a5" stroke-width="4.35" stroke-linecap="square"/>
<text x="678.5" y="1616.15">DRAGON-MINE</text>
<path d="M605 1645.2H657.6" fill="none" stroke="#992869" stroke-width="3.65" stroke-linecap="butt" stroke-dasharray="14.4 6.3"/>
<text x="678.5" y="1654.7">Transformer</text>
<path d="M605 1683.75H657.6" fill="none" stroke="#f08c00" stroke-width="3.65" stroke-linecap="butt" stroke-dasharray="25.1 6.3 3.9 6.3"/>
<text x="678.5" y="1693.25">Fed-Ensemble</text>
<path d="M605 1722.3H657.6" fill="none" stroke="#5f933e" stroke-width="3.45" stroke-linecap="butt" stroke-dasharray="3.5 5.95"/>
<text x="678.5" y="1731.8">LSTM</text>
<path d="M605 1760.85H657.6" fill="none" stroke="#b93c46" stroke-width="3.2" stroke-linecap="butt" stroke-dasharray="10.5 3.6 3.5 3.6"/>
<text x="678.5" y="1770.35">XGBoost</text>
</g>
</g>
<g>
<path d="M1183.24 1799.55V1033.2M1281.82 1799.55V1033.2M1380.36 1799.55V1033.2M1479 1799.55V1033.2M1577.59 1799.55V1033.2M1676.22 1799.55V1033.2M1774.46 1799.55V1033.2M1084.6 1703.76H1872.1M1084.6 1607.96H1872.1M1084.6 1512.17H1872.1M1084.6 1416.38H1872.1M1084.6 1320.58H1872.1M1084.6 1224.79H1872.1M1084.6 1128.99H1872.1" fill="none" stroke="#e4e4e4" stroke-width="1.3" stroke-dasharray="5.9 2.6"/>
<clipPath id="clip-d"><rect x="1084.6" y="1033.2" width="787.5" height="766.35"/></clipPath>
<g clip-path="url(#clip-d)" fill="none" stroke-linejoin="round">
<path d="M1088.54 1098.45C1088.68 1098.45 1088.05 1098.52 1089.39 1098.42C1090.73 1098.32 1093.54 1098.05 1096.58 1097.87C1099.62 1097.69 1104.87 1097.41 1107.63 1097.32C1110.39 1097.23 1110.4 1096.95 1113.16 1097.32C1115.92 1097.69 1120.53 1098.85 1124.21 1099.53C1127.89 1100.21 1131.58 1100.86 1135.26 1101.41C1138.94 1101.96 1142.63 1102.6 1146.32 1102.84C1150 1103.08 1153.69 1102.69 1157.37 1102.84C1161.05 1102.99 1164.74 1103.64 1168.42 1103.73C1172.1 1103.82 1175.79 1103.69 1179.47 1103.39C1183.15 1103.1 1186.85 1102.33 1190.53 1101.96C1194.21 1101.59 1197.9 1101.22 1201.58 1101.18C1205.26 1101.14 1208.95 1101.56 1212.63 1101.74C1216.31 1101.92 1220 1101.92 1223.68 1102.29C1227.37 1102.66 1231.06 1103.31 1234.74 1103.95C1238.42 1104.6 1242.11 1105.7 1245.79 1106.16C1249.47 1106.62 1253.16 1106.71 1256.84 1106.71C1260.52 1106.71 1264.21 1106.31 1267.89 1106.16C1271.58 1106.01 1275.09 1105.83 1278.95 1105.83C1282.81 1105.83 1287.19 1105.92 1291.05 1106.16C1294.91 1106.4 1298.42 1106.89 1302.11 1107.26C1305.79 1107.63 1309.48 1108.13 1313.16 1108.37C1316.84 1108.61 1320.53 1108.7 1324.21 1108.7C1327.89 1108.7 1331.58 1108.52 1335.26 1108.37C1338.94 1108.22 1342.63 1107.86 1346.32 1107.82C1350 1107.78 1353.69 1107.88 1357.37 1108.15C1361.05 1108.43 1364.74 1109.07 1368.42 1109.47C1372.1 1109.88 1375.79 1110.21 1379.47 1110.58C1383.15 1110.95 1386.85 1111.35 1390.53 1111.68C1394.21 1112.01 1397.9 1112.2 1401.58 1112.57C1405.26 1112.94 1408.95 1113.39 1412.63 1113.89C1416.31 1114.39 1420 1115.4 1423.68 1115.55C1427.37 1115.7 1431.06 1115.06 1434.74 1114.78C1438.42 1114.5 1442.11 1113.82 1445.79 1113.89C1449.47 1113.96 1453.16 1114.8 1456.84 1115.22C1460.52 1115.64 1464.21 1116.26 1467.89 1116.44C1471.58 1116.62 1475.09 1116.57 1478.95 1116.33C1482.81 1116.09 1487.19 1115.13 1491.05 1115C1494.91 1114.87 1498.42 1115.46 1502.11 1115.55C1505.79 1115.64 1509.48 1115.73 1513.16 1115.55C1516.84 1115.37 1520.53 1114.63 1524.21 1114.45C1527.89 1114.27 1531.58 1114.32 1535.26 1114.45C1538.94 1114.58 1542.63 1115.22 1546.32 1115.22C1550 1115.22 1553.69 1114.63 1557.37 1114.45C1561.05 1114.27 1564.74 1113.75 1568.42 1114.12C1572.1 1114.49 1575.79 1115.78 1579.47 1116.66C1583.15 1117.54 1586.85 1119.14 1590.53 1119.42C1594.21 1119.7 1597.9 1118.65 1601.58 1118.32C1605.26 1117.99 1608.95 1117.49 1612.63 1117.43C1616.31 1117.37 1620 1117.89 1623.68 1117.98C1627.37 1118.07 1631.06 1118.11 1634.74 1117.98C1638.42 1117.85 1642.11 1117.34 1645.79 1117.21C1649.47 1117.08 1653.16 1116.84 1656.84 1117.21C1660.52 1117.58 1664.21 1118.68 1667.89 1119.42C1671.58 1120.16 1675.09 1121.63 1678.95 1121.63C1682.81 1121.63 1687.19 1119.55 1691.05 1119.42C1694.91 1119.29 1698.42 1120.4 1702.11 1120.86C1705.79 1121.32 1709.48 1121.87 1713.16 1122.18C1716.84 1122.49 1720.53 1122.68 1724.21 1122.74C1727.89 1122.8 1731.58 1122.65 1735.26 1122.52C1738.94 1122.39 1742.63 1122.11 1746.32 1121.96C1750 1121.81 1753.69 1121.63 1757.37 1121.63C1761.05 1121.63 1764.74 1121.78 1768.42 1121.96C1772.1 1122.14 1775.79 1122.43 1779.47 1122.74C1783.15 1123.05 1786.85 1123.56 1790.53 1123.84C1794.21 1124.12 1797.9 1124.39 1801.58 1124.39C1805.26 1124.39 1808.95 1123.84 1812.63 1123.84C1816.31 1123.84 1820 1124.3 1823.68 1124.39C1827.37 1124.48 1831.06 1124.35 1834.74 1124.39C1838.42 1124.43 1842.11 1124.43 1845.79 1124.62C1849.47 1124.8 1852.6 1125.22 1856.84 1125.5C1861.08 1125.78 1868.82 1126.14 1871.21 1126.27" stroke="#1473a5" stroke-width="4.35" stroke-linecap="square"/>
<path d="M1088.54 1087.98C1088.68 1087.97 1087.13 1088.21 1089.39 1087.92C1091.65 1087.63 1098.7 1086.87 1102.11 1086.26C1105.52 1085.65 1106.43 1084.77 1109.84 1084.27C1113.25 1083.77 1119.14 1082.98 1122.55 1083.28C1125.96 1083.58 1126.79 1085.12 1130.29 1086.04C1133.79 1086.96 1140.05 1088.46 1143.55 1088.81C1147.05 1089.16 1147.88 1088.23 1151.29 1088.14C1154.7 1088.05 1160.59 1087.92 1164 1088.25C1167.41 1088.58 1168.33 1089.58 1171.74 1090.13C1175.15 1090.68 1180.95 1091.02 1184.45 1091.57C1187.95 1092.12 1189.24 1093.05 1192.74 1093.45C1196.24 1093.86 1202.04 1093.82 1205.45 1094C1208.86 1094.18 1209.77 1094.49 1213.18 1094.55C1216.59 1094.61 1222.39 1094.61 1225.89 1094.33C1229.39 1094.05 1230.68 1092.95 1234.18 1092.89C1237.68 1092.84 1243.39 1093.36 1246.89 1094C1250.39 1094.64 1251.68 1096.12 1255.18 1096.76C1258.68 1097.4 1264.48 1097.72 1267.89 1097.87C1271.3 1098.02 1272.23 1097.84 1275.63 1097.65C1279.04 1097.47 1284.83 1096.72 1288.32 1096.76C1291.81 1096.8 1293.09 1097.68 1296.58 1097.87C1300.07 1098.05 1305.79 1097.96 1309.29 1097.87C1312.79 1097.78 1314.08 1097.6 1317.58 1097.32C1321.08 1097.04 1326.79 1096.71 1330.29 1096.21C1333.79 1095.71 1335.08 1094.55 1338.58 1094.33C1342.08 1094.11 1347.79 1094.94 1351.29 1094.88C1354.79 1094.83 1356.08 1094.37 1359.58 1094C1363.08 1093.63 1368.79 1092.86 1372.29 1092.67C1375.79 1092.49 1377.08 1093.04 1380.58 1092.89C1384.08 1092.74 1389.88 1091.83 1393.29 1091.79C1396.7 1091.75 1397.62 1092.03 1401.03 1092.67C1404.44 1093.32 1410.33 1094.7 1413.74 1095.66C1417.15 1096.62 1418.15 1097.37 1421.47 1098.42C1424.79 1099.47 1430.31 1100.8 1433.63 1101.96C1436.95 1103.12 1437.96 1104.35 1441.37 1105.38C1444.78 1106.41 1450.67 1108.02 1454.08 1108.15C1457.49 1108.28 1458.5 1107.1 1461.82 1106.16C1465.13 1105.22 1470.56 1103.34 1473.97 1102.51C1477.38 1101.68 1478.86 1101.22 1482.26 1101.18C1485.66 1101.14 1491.06 1101.83 1494.37 1102.29C1497.68 1102.75 1498.7 1103.31 1502.11 1103.95C1505.52 1104.6 1511.41 1106.44 1514.82 1106.16C1518.23 1105.88 1519.23 1103.58 1522.55 1102.29C1525.87 1101 1531.39 1098.79 1534.71 1098.42C1538.03 1098.05 1539.04 1099.12 1542.45 1100.08C1545.86 1101.04 1551.75 1103.25 1555.16 1104.17C1558.57 1105.09 1559.48 1105.65 1562.89 1105.61C1566.3 1105.57 1572.2 1104.78 1575.61 1103.95C1579.02 1103.12 1579.93 1101.77 1583.34 1100.63C1586.75 1099.49 1592.64 1097.59 1596.05 1097.09C1599.46 1096.59 1600.38 1096.78 1603.79 1097.65C1607.2 1098.52 1613.09 1101.28 1616.5 1102.29C1619.91 1103.3 1620.92 1103.67 1624.24 1103.73C1627.56 1103.79 1632.98 1103.04 1636.39 1102.62C1639.8 1102.19 1641.18 1101.14 1644.68 1101.18C1648.18 1101.22 1653.89 1102.19 1657.39 1102.84C1660.89 1103.48 1662.18 1104.37 1665.68 1105.05C1669.18 1105.73 1674.9 1106.51 1678.39 1106.93C1681.88 1107.35 1683.14 1107.72 1686.63 1107.59C1690.12 1107.46 1695.84 1106.8 1699.34 1106.16C1702.84 1105.52 1704.22 1104.56 1707.63 1103.73C1711.04 1102.9 1716.47 1101.64 1719.79 1101.18C1723.11 1100.72 1724.12 1100.68 1727.53 1100.96C1730.94 1101.24 1736.83 1101.97 1740.24 1102.84C1743.65 1103.71 1744.65 1104.91 1747.97 1106.16C1751.29 1107.41 1756.72 1109.84 1760.13 1110.36C1763.54 1110.88 1765.01 1109.49 1768.42 1109.25C1771.83 1109.01 1777.17 1108.42 1780.58 1108.92C1783.99 1109.42 1785.37 1111.36 1788.87 1112.24C1792.37 1113.12 1798.08 1113.81 1801.58 1114.23C1805.08 1114.65 1806.46 1115.11 1809.87 1114.78C1813.28 1114.45 1818.71 1113.18 1822.03 1112.24C1825.35 1111.3 1826.35 1110.15 1829.76 1109.14C1833.17 1108.13 1838.97 1106.71 1842.47 1106.16C1845.97 1105.61 1847.35 1105.22 1850.76 1105.83C1854.17 1106.44 1859.6 1108.84 1862.92 1109.81C1866.24 1110.78 1869.37 1111.37 1870.66 1111.68" stroke="#992869" stroke-width="3.65" stroke-linecap="butt" stroke-dasharray="14.4 6.3"/>
<path d="M1088.54 1101.2C1088.68 1101.2 1087.13 1101.28 1089.39 1101.18C1091.65 1101.09 1098.15 1100.81 1102.11 1100.63C1106.07 1100.45 1109.94 1100.6 1113.16 1100.08C1116.38 1099.56 1118.5 1098.18 1121.45 1097.54C1124.4 1096.89 1127.25 1096.06 1130.84 1096.21C1134.43 1096.36 1139.22 1098.27 1143 1098.42C1146.78 1098.57 1150.15 1097.31 1153.5 1097.09C1156.85 1096.87 1159.99 1096.68 1163.12 1097.09C1166.25 1097.5 1168.83 1099.49 1172.29 1099.53C1175.75 1099.57 1180.11 1097.96 1183.89 1097.32C1187.67 1096.67 1191.58 1095.38 1194.95 1095.66C1198.32 1095.94 1201.17 1097.77 1204.12 1098.97C1207.07 1100.17 1209.37 1101.46 1212.63 1102.84C1215.89 1104.22 1220 1106.15 1223.68 1107.26C1227.37 1108.37 1231.33 1109.25 1234.74 1109.47C1238.15 1109.69 1241 1108.77 1244.13 1108.59C1247.26 1108.41 1249.94 1108.26 1253.53 1108.37C1257.12 1108.48 1261.81 1108.94 1265.68 1109.25C1269.55 1109.56 1273.45 1109.7 1276.74 1110.25C1280.03 1110.8 1282.41 1111.87 1285.44 1112.57C1288.47 1113.27 1291.41 1114.6 1294.92 1114.45C1298.43 1114.3 1302.75 1112.69 1306.53 1111.68C1310.31 1110.67 1314.26 1109.38 1317.58 1108.37C1320.89 1107.36 1323.47 1106.71 1326.42 1105.61C1329.37 1104.5 1331.94 1102.79 1335.26 1101.74C1338.58 1100.69 1342.54 1099.55 1346.32 1099.31C1350.1 1099.07 1354.48 1100.08 1357.92 1100.3C1361.36 1100.52 1363.94 1100.8 1366.98 1100.63C1370.02 1100.47 1372.79 1099.55 1376.16 1099.31C1379.53 1099.07 1383.43 1098.69 1387.21 1099.19C1390.99 1099.69 1395.41 1101.26 1398.82 1102.29C1402.23 1103.32 1404.62 1104.74 1407.66 1105.38C1410.7 1106.03 1413.64 1106.03 1417.05 1106.16C1420.46 1106.29 1424.42 1105.7 1428.11 1106.16C1431.79 1106.62 1435.75 1107.91 1439.16 1108.92C1442.57 1109.93 1445.42 1111.69 1448.55 1112.24C1451.68 1112.79 1454.73 1112.79 1457.95 1112.24C1461.17 1111.69 1464.21 1109.81 1467.89 1108.92C1471.57 1108.04 1476.37 1107.02 1480.05 1106.93C1483.73 1106.84 1486.83 1107.48 1489.95 1108.37C1493.07 1109.25 1495.11 1110.77 1498.79 1112.24C1502.47 1113.71 1508.46 1116.66 1512.05 1117.21C1515.64 1117.76 1517.48 1116.65 1520.34 1115.55C1523.19 1114.44 1526.23 1111.22 1529.18 1110.58C1532.13 1109.93 1534.44 1110.76 1538.03 1111.68C1541.62 1112.6 1546.96 1115.92 1550.74 1116.11C1554.52 1116.29 1557.79 1113.99 1560.68 1112.79C1563.57 1111.59 1565.42 1110.03 1568.09 1108.92C1570.76 1107.82 1573.34 1106.29 1576.71 1106.16C1580.08 1106.03 1584.36 1107.41 1588.32 1108.15C1592.28 1108.89 1596.93 1110.17 1600.47 1110.58C1604.01 1110.98 1606.5 1110.67 1609.54 1110.58C1612.58 1110.49 1615.25 1109.7 1618.71 1110.03C1622.17 1110.36 1626.45 1111.78 1630.32 1112.57C1634.19 1113.36 1638.46 1114.78 1641.92 1114.78C1645.38 1114.78 1648.05 1113.14 1651.09 1112.57C1654.13 1112 1656.62 1111.35 1660.16 1111.35C1663.7 1111.35 1668.45 1112 1672.32 1112.57C1676.19 1113.14 1680.01 1114.06 1683.37 1114.78C1686.73 1115.5 1689.37 1116.35 1692.49 1116.88C1695.61 1117.41 1698.66 1117.61 1702.11 1117.98C1705.55 1118.35 1709.38 1118.81 1713.16 1119.09C1716.94 1119.37 1721.3 1119.86 1724.76 1119.64C1728.22 1119.42 1730.9 1118.29 1733.94 1117.76C1736.98 1117.23 1739.65 1116.44 1743 1116.44C1746.35 1116.44 1750.27 1116.93 1754.05 1117.76C1757.83 1118.59 1762.11 1120.49 1765.66 1121.41C1769.22 1122.33 1772.25 1123.2 1775.38 1123.29C1778.51 1123.38 1781.01 1122.83 1784.45 1121.96C1787.89 1121.09 1792.27 1118.88 1796.05 1118.09C1799.83 1117.3 1803.66 1117.12 1807.11 1117.21C1810.55 1117.3 1813.59 1118.25 1816.72 1118.65C1819.85 1119.06 1822.52 1119.64 1825.89 1119.64C1829.26 1119.64 1833.08 1119 1836.95 1118.65C1840.82 1118.3 1845.57 1117.96 1849.11 1117.54C1852.65 1117.12 1855.22 1116.35 1858.17 1116.11C1861.12 1115.87 1864.62 1116.2 1866.79 1116.11C1868.96 1116.02 1870.47 1115.64 1871.21 1115.55" stroke="#f08c00" stroke-width="3.65" stroke-linecap="butt" stroke-dasharray="25.1 6.3 3.9 6.3"/>
<path d="M1088.54 1075.29C1088.78 1075.28 1088.15 1075.41 1089.95 1075.21C1091.75 1075.01 1096.21 1074.44 1099.34 1074.11C1102.47 1073.78 1105.61 1073.46 1108.74 1073.22C1111.87 1072.98 1114.96 1072.76 1118.13 1072.67C1121.3 1072.58 1124.58 1072.74 1127.75 1072.67C1130.92 1072.6 1134.08 1072.78 1137.14 1072.23C1140.2 1071.68 1143.09 1070.33 1146.09 1069.35C1149.09 1068.37 1152.08 1066.96 1155.16 1066.37C1158.24 1065.78 1161.42 1065.64 1164.55 1065.82C1167.68 1066 1170.86 1066.83 1173.95 1067.47C1177.05 1068.11 1180.17 1068.61 1183.12 1069.68C1186.07 1070.75 1188.78 1072.54 1191.63 1073.88C1194.49 1075.23 1197.27 1076.85 1200.25 1077.75C1203.23 1078.65 1206.52 1078.43 1209.54 1079.3C1212.56 1080.17 1215.51 1081.7 1218.38 1082.95C1221.25 1084.2 1223.82 1085.95 1226.78 1086.82C1229.74 1087.68 1233.09 1087.53 1236.17 1088.14C1239.25 1088.75 1242.26 1089.36 1245.24 1090.46C1248.22 1091.57 1251.13 1094.27 1254.08 1094.77C1257.03 1095.27 1260.01 1094.22 1262.92 1093.45C1265.83 1092.68 1268.54 1090.78 1271.54 1090.13C1274.54 1089.49 1277.91 1090 1280.94 1089.58C1283.97 1089.16 1286.94 1087.68 1289.73 1087.59C1292.52 1087.5 1294.84 1088.37 1297.68 1089.03C1300.52 1089.69 1303.67 1091.29 1306.75 1091.57C1309.83 1091.85 1313.05 1090.64 1316.14 1090.68C1319.24 1090.72 1322.22 1091.51 1325.32 1091.79C1328.41 1092.07 1331.67 1092.71 1334.71 1092.34C1337.75 1091.97 1340.57 1090.44 1343.55 1089.58C1346.53 1088.71 1349.49 1087.52 1352.62 1087.15C1355.75 1086.78 1359.19 1087.46 1362.34 1087.37C1365.49 1087.28 1368.39 1086.87 1371.52 1086.59C1374.65 1086.31 1377.96 1085.62 1381.13 1085.71C1384.3 1085.8 1387.43 1086.93 1390.53 1087.15C1393.62 1087.37 1396.57 1087.34 1399.7 1087.04C1402.83 1086.74 1406.19 1085.57 1409.32 1085.38C1412.45 1085.2 1415.36 1085.63 1418.49 1085.93C1421.62 1086.23 1424.98 1087.28 1428.11 1087.15C1431.24 1087.02 1434.19 1085.53 1437.28 1085.16C1440.37 1084.79 1443.56 1084.57 1446.67 1084.94C1449.78 1085.31 1452.83 1086.78 1455.96 1087.37C1459.09 1087.96 1462.31 1088.19 1465.46 1088.47C1468.61 1088.75 1471.75 1088.66 1474.86 1089.03C1477.97 1089.4 1481.22 1089.7 1484.14 1090.68C1487.06 1091.66 1489.72 1093.31 1492.38 1094.88C1495.04 1096.45 1497.39 1098.48 1500.12 1100.08C1502.85 1101.68 1505.78 1103.58 1508.74 1104.5C1511.7 1105.42 1514.84 1105.89 1517.91 1105.61C1520.99 1105.33 1524.15 1103.82 1527.19 1102.84C1530.23 1101.86 1533.15 1100.71 1536.15 1099.75C1539.15 1098.79 1542.26 1098.1 1545.21 1097.09C1548.16 1096.08 1550.88 1094.79 1553.83 1093.67C1556.78 1092.55 1559.81 1090.98 1562.89 1090.35C1565.97 1089.72 1569.19 1089.67 1572.29 1089.91C1575.38 1090.15 1578.42 1091.07 1581.46 1091.79C1584.5 1092.51 1587.58 1093.15 1590.53 1094.22C1593.48 1095.29 1596.2 1097.1 1599.15 1098.2C1602.1 1099.31 1605.23 1100.66 1608.21 1100.85C1611.19 1101.03 1614.07 1100.23 1617.05 1099.31C1620.03 1098.39 1623.08 1096.34 1626.12 1095.33C1629.16 1094.32 1632.2 1093.6 1635.29 1093.23C1638.38 1092.86 1641.59 1092.75 1644.68 1093.12C1647.78 1093.49 1650.86 1094.47 1653.86 1095.44C1656.86 1096.41 1659.66 1098.25 1662.7 1098.97C1665.74 1099.69 1669.01 1099.93 1672.09 1099.75C1675.17 1099.57 1678.09 1098.51 1681.16 1097.87C1684.23 1097.22 1687.38 1096.53 1690.5 1095.88C1693.62 1095.24 1696.81 1094.5 1699.89 1094C1702.97 1093.5 1705.88 1093.13 1708.96 1092.89C1712.04 1092.65 1715.25 1092.19 1718.35 1092.56C1721.44 1092.93 1724.49 1094.13 1727.53 1095.11C1730.57 1096.09 1733.51 1097.78 1736.59 1098.42C1739.66 1099.06 1742.85 1098.84 1745.98 1098.97C1749.11 1099.1 1752.25 1099.1 1755.38 1099.19C1758.51 1099.28 1761.71 1099.93 1764.77 1099.53C1767.83 1099.12 1770.73 1097.68 1773.73 1096.76C1776.73 1095.84 1779.75 1094.13 1782.79 1094C1785.83 1093.87 1788.88 1095.16 1791.96 1095.99C1795.04 1096.82 1798.17 1098.47 1801.25 1098.97C1804.33 1099.47 1807.33 1098.82 1810.42 1098.97C1813.52 1099.12 1816.69 1099.55 1819.82 1099.86C1822.95 1100.17 1826.08 1100.68 1829.21 1100.85C1832.34 1101.01 1835.48 1100.94 1838.61 1100.85C1841.74 1100.76 1844.92 1100.8 1848 1100.3C1851.08 1099.8 1854.07 1098.92 1857.06 1097.87C1860.05 1096.82 1863.4 1094.96 1865.91 1094C1868.42 1093.04 1871.07 1092.42 1872.1 1092.1" stroke="#5f933e" stroke-width="3.45" stroke-linecap="butt" stroke-dasharray="3.5 5.95"/>
<path d="M1088.54 1117.87C1088.68 1117.85 1088.05 1118.09 1089.39 1117.76C1090.73 1117.43 1094.18 1116.29 1096.58 1115.88C1098.97 1115.48 1101.55 1115.29 1103.76 1115.33C1105.97 1115.37 1107.35 1115.94 1109.84 1116.11C1112.33 1116.28 1116.23 1116.7 1118.68 1116.33C1121.13 1115.96 1122.51 1114.48 1124.54 1113.89C1126.57 1113.3 1128.5 1113.16 1130.84 1112.79C1133.18 1112.42 1136.18 1112.23 1138.58 1111.68C1140.97 1111.13 1143.09 1110.3 1145.21 1109.47C1147.33 1108.64 1148.89 1107.26 1151.29 1106.71C1153.68 1106.16 1157.18 1106.01 1159.58 1106.16C1161.97 1106.31 1163.63 1107.37 1165.66 1107.59C1167.69 1107.81 1169.35 1107.9 1171.74 1107.48C1174.13 1107.06 1177.63 1105.79 1180.03 1105.05C1182.42 1104.31 1184.08 1103.24 1186.11 1103.06C1188.13 1102.88 1189.79 1103.43 1192.18 1103.95C1194.57 1104.47 1197.98 1105.7 1200.47 1106.16C1202.96 1106.62 1204.99 1106.34 1207.11 1106.71C1209.23 1107.08 1210.97 1107.63 1213.18 1108.37C1215.39 1109.11 1218.12 1110.08 1220.37 1111.13C1222.62 1112.18 1224.64 1113.57 1226.67 1114.67C1228.7 1115.78 1230.17 1116.93 1232.53 1117.76C1234.89 1118.59 1238.33 1119.33 1240.82 1119.64C1243.31 1119.95 1245.33 1119.86 1247.45 1119.64C1249.57 1119.42 1251.23 1119 1253.53 1118.32C1255.83 1117.64 1258.96 1116.53 1261.26 1115.55C1263.56 1114.57 1265.31 1113.23 1267.34 1112.46C1269.37 1111.69 1271.12 1110.67 1273.42 1110.91C1275.72 1111.15 1278.87 1112.89 1281.16 1113.89C1283.45 1114.89 1285.07 1116.27 1287.18 1116.88C1289.29 1117.49 1291.52 1117.8 1293.82 1117.54C1296.12 1117.28 1298.79 1116.16 1301 1115.33C1303.21 1114.5 1305.05 1113.45 1307.08 1112.57C1309.11 1111.69 1310.86 1111.1 1313.16 1110.03C1315.46 1108.96 1318.59 1106.86 1320.89 1106.16C1323.19 1105.46 1324.85 1105.7 1326.97 1105.83C1329.09 1105.96 1331.21 1105.99 1333.61 1106.93C1336 1107.87 1339.07 1110.3 1341.34 1111.46C1343.61 1112.62 1345.27 1113.34 1347.2 1113.89C1349.13 1114.44 1350.43 1114.47 1352.95 1114.78C1355.47 1115.09 1359.76 1115.64 1362.34 1115.77C1364.92 1115.9 1366.3 1115.95 1368.42 1115.55C1370.54 1115.14 1372.47 1113.89 1375.05 1113.34C1377.63 1112.79 1381.5 1112.52 1383.89 1112.24C1386.29 1111.96 1387.49 1111.87 1389.42 1111.68C1391.36 1111.5 1392.92 1111.41 1395.5 1111.13C1398.08 1110.86 1402.31 1110.12 1404.89 1110.03C1407.47 1109.94 1408.94 1110.3 1410.97 1110.58C1413 1110.86 1414.56 1111.62 1417.05 1111.68C1419.54 1111.74 1423.35 1111.28 1425.89 1110.91C1428.43 1110.54 1430.28 1109.77 1432.31 1109.47C1434.34 1109.17 1435.8 1108.96 1438.05 1109.14C1440.3 1109.33 1443.39 1109.97 1445.79 1110.58C1448.18 1111.19 1450.21 1112.24 1452.42 1112.79C1454.63 1113.34 1456.47 1113.58 1459.05 1113.89C1461.63 1114.2 1465.4 1114.49 1467.89 1114.67C1470.38 1114.86 1471.76 1114.91 1473.97 1115C1476.18 1115.09 1478.87 1115.31 1481.16 1115.22C1483.46 1115.13 1485.39 1114.95 1487.74 1114.45C1490.09 1113.95 1493.04 1112.98 1495.25 1112.24C1497.46 1111.5 1498.66 1110.81 1501 1110.03C1503.34 1109.25 1506.89 1108.05 1509.29 1107.59C1511.68 1107.13 1513.34 1106.95 1515.37 1107.26C1517.4 1107.57 1519.42 1108.18 1521.45 1109.47C1523.48 1110.76 1525.47 1113.47 1527.53 1115C1529.59 1116.53 1531.8 1117.64 1533.83 1118.65C1535.86 1119.66 1537.41 1120.21 1539.68 1121.08C1541.95 1121.94 1545.06 1122.83 1547.42 1123.84C1549.78 1124.85 1551.8 1126.28 1553.83 1127.16C1555.86 1128.05 1557.15 1128.93 1559.58 1129.15C1562.01 1129.37 1566.03 1129.03 1568.42 1128.48C1570.82 1127.93 1572.02 1126.88 1573.95 1125.83C1575.88 1124.78 1577.82 1123.29 1580.03 1122.18C1582.24 1121.08 1584.96 1119.84 1587.21 1119.2C1589.46 1118.56 1591.48 1118.13 1593.51 1118.32C1595.54 1118.5 1597.1 1119.52 1599.37 1120.31C1601.64 1121.1 1604.71 1122.26 1607.11 1123.07C1609.5 1123.88 1611.62 1124.82 1613.74 1125.17C1615.86 1125.52 1617.24 1125.36 1619.82 1125.17C1622.4 1124.99 1626.67 1124.34 1629.21 1124.06C1631.75 1123.78 1633.04 1123.73 1635.07 1123.51C1637.1 1123.29 1638.85 1123.14 1641.37 1122.74C1643.89 1122.34 1647.72 1121.6 1650.21 1121.08C1652.7 1120.56 1654.26 1120.05 1656.29 1119.64C1658.32 1119.24 1660.07 1118.5 1662.37 1118.65C1664.67 1118.8 1667.71 1119.98 1670.11 1120.53C1672.5 1121.08 1674.71 1121.56 1676.74 1121.96C1678.77 1122.37 1680.06 1122.98 1682.26 1122.96C1684.46 1122.94 1687.47 1122.4 1689.95 1121.85C1692.43 1121.3 1694.92 1120.05 1697.13 1119.64C1699.34 1119.24 1701.09 1118.72 1703.21 1119.42C1705.33 1120.12 1707.72 1122.46 1709.84 1123.84C1711.96 1125.22 1713.89 1126.79 1715.92 1127.71C1717.95 1128.63 1719.7 1129.46 1722 1129.37C1724.3 1129.28 1727.44 1128.08 1729.74 1127.16C1732.04 1126.24 1733.79 1124.61 1735.82 1123.84C1737.85 1123.07 1739.4 1122.89 1741.89 1122.52C1744.38 1122.15 1748.25 1121.96 1750.74 1121.63C1753.23 1121.3 1754.89 1121.08 1756.82 1120.53C1758.75 1119.98 1760.04 1119.24 1762.34 1118.32C1764.64 1117.4 1768.24 1115.7 1770.63 1115C1773.03 1114.3 1774.78 1113.93 1776.71 1114.12C1778.64 1114.3 1779.94 1115.32 1782.24 1116.11C1784.54 1116.9 1788.13 1118.28 1790.53 1118.87C1792.92 1119.46 1794.49 1119.73 1796.61 1119.64C1798.73 1119.55 1800.75 1118.91 1803.24 1118.32C1805.73 1117.73 1809.13 1116.63 1811.53 1116.11C1813.92 1115.59 1815.58 1115.04 1817.61 1115.22C1819.63 1115.4 1821.38 1116.33 1823.68 1117.21C1825.98 1118.1 1829.12 1119.52 1831.42 1120.53C1833.72 1121.54 1835.47 1122.61 1837.5 1123.29C1839.53 1123.97 1841.09 1124.44 1843.58 1124.62C1846.07 1124.8 1849.9 1124.7 1852.42 1124.39C1854.94 1124.08 1856.51 1123.16 1858.72 1122.74C1860.93 1122.32 1863.6 1122.03 1865.68 1121.85C1867.76 1121.66 1870.29 1121.67 1871.21 1121.63" stroke="#b93c46" stroke-width="3.2" stroke-linecap="butt" stroke-dasharray="10.5 3.6 3.5 3.6"/>
</g>
<path d="M1084.6 1799.55v7.6M1183.24 1799.55v7.6M1281.82 1799.55v7.6M1380.36 1799.55v7.6M1479 1799.55v7.6M1577.59 1799.55v7.6M1676.22 1799.55v7.6M1774.46 1799.55v7.6M1872.1 1799.55v7.6M1084.6 1799.55h-7.6M1084.6 1703.76h-7.6M1084.6 1607.96h-7.6M1084.6 1512.17h-7.6M1084.6 1416.38h-7.6M1084.6 1320.58h-7.6M1084.6 1224.79h-7.6M1084.6 1128.99h-7.6M1084.6 1033.2h-7.6" fill="none" stroke="#000" stroke-width="1.8"/>
<rect x="1084.6" y="1033.2" width="787.5" height="766.35" fill="none" stroke="#000" stroke-width="1.95"/>
<g font-size="27.4">
<text x="1084.6" y="1834.65" text-anchor="middle" font-size="26.9">0</text>
<text x="1183.24" y="1834.65" text-anchor="middle" font-size="26.9">25</text>
<text x="1281.82" y="1834.65" text-anchor="middle" font-size="26.9">50</text>
<text x="1380.36" y="1834.65" text-anchor="middle" font-size="26.9">75</text>
<text x="1478.3" y="1834.65" text-anchor="middle" font-size="26.9">100</text>
<text x="1576.89" y="1834.65" text-anchor="middle" font-size="26.9">125</text>
<text x="1675.52" y="1834.65" text-anchor="middle" font-size="26.9">150</text>
<text x="1773.76" y="1834.65" text-anchor="middle" font-size="26.9">175</text>
<text x="1872.1" y="1834.65" text-anchor="middle" font-size="26.9">200</text>
<text x="1069.7" y="1810.55" text-anchor="end">0.0</text>
<text x="1069.7" y="1714.76" text-anchor="end">0.1</text>
<text x="1069.7" y="1618.96" text-anchor="end">0.2</text>
<text x="1069.7" y="1523.17" text-anchor="end">0.3</text>
<text x="1069.7" y="1427.38" text-anchor="end">0.4</text>
<text x="1069.7" y="1331.58" text-anchor="end">0.5</text>
<text x="1069.7" y="1235.79" text-anchor="end">0.6</text>
<text x="1069.7" y="1139.99" text-anchor="end">0.7</text>
<text x="1069.7" y="1044.2" text-anchor="end">0.8</text>
</g>
<text x="1477.75" y="1871.55" text-anchor="middle" font-size="31.8">Epoch</text>
<text transform="translate(1011.1 1418.17) rotate(-90)" text-anchor="middle" font-size="32.1">Training Loss</text>
<text x="1084.3" y="1020.7" font-size="31.9">(d) Overall Comparison</text>
<rect x="1579.1" y="1585.5" width="279.9" height="201" rx="2.6" fill="#fff" fill-opacity="0.9" stroke="#828282" stroke-width="1.9"/>
<g font-size="25.45">
<path d="M1589.3 1606.7H1641.9" fill="none" stroke="#1473a5" stroke-width="4.35" stroke-linecap="square"/>
<text x="1662.8" y="1616.2">DRAGON-MINE</text>
<path d="M1589.3 1645.25H1641.9" fill="none" stroke="#992869" stroke-width="3.65" stroke-linecap="butt" stroke-dasharray="14.4 6.3"/>
<text x="1662.8" y="1654.75">Transformer</text>
<path d="M1589.3 1683.8H1641.9" fill="none" stroke="#f08c00" stroke-width="3.65" stroke-linecap="butt" stroke-dasharray="25.1 6.3 3.9 6.3"/>
<text x="1662.8" y="1693.3">Fed-Ensemble</text>
<path d="M1589.3 1722.35H1641.9" fill="none" stroke="#5f933e" stroke-width="3.45" stroke-linecap="butt" stroke-dasharray="3.5 5.95"/>
<text x="1662.8" y="1731.85">LSTM</text>
<path d="M1589.3 1760.9H1641.9" fill="none" stroke="#b93c46" stroke-width="3.2" stroke-linecap="butt" stroke-dasharray="10.5 3.6 3.5 3.6"/>
<text x="1662.8" y="1770.4">XGBoost</text>
</g>
</g>
</g>
</svg>
</body>
</html>
